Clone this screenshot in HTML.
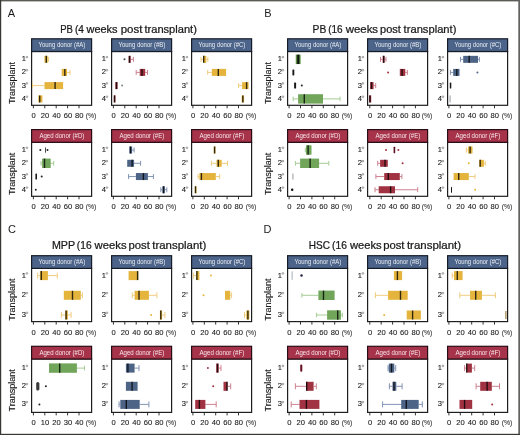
<!DOCTYPE html>
<html><head><meta charset="utf-8"><title>Figure</title>
<style>
html,body{margin:0;padding:0;background:#fff;}
body{width:520px;height:435px;overflow:hidden;font-family:"Liberation Sans", sans-serif;}
svg{display:block;font-family:"Liberation Sans", sans-serif;will-change:transform;}
</style></head><body>
<svg width="520" height="435" viewBox="0 0 520 435">
<rect x="0" y="0" width="520" height="435" fill="#ffffff"/>
<text x="7.8" y="17" font-size="11" fill="#1a1a1a">A</text>
<text x="60.14" y="32.5" font-size="10.6" fill="#1a1a1a" stroke="#1a1a1a" stroke-width="0.24" textLength="12.67" lengthAdjust="spacingAndGlyphs">PB</text>
<text x="74.89" y="32.5" font-size="10.6" fill="#1a1a1a" stroke="#1a1a1a" stroke-width="0.24" textLength="9" lengthAdjust="spacingAndGlyphs">(4</text>
<text x="86.5" y="32.5" font-size="10.6" fill="#1a1a1a" stroke="#1a1a1a" stroke-width="0.24" textLength="31.08" lengthAdjust="spacingAndGlyphs">weeks</text>
<text x="120.76" y="32.5" font-size="10.6" fill="#1a1a1a" stroke="#1a1a1a" stroke-width="0.24" textLength="21.66" lengthAdjust="spacingAndGlyphs">post</text>
<text x="144.43" y="32.5" font-size="10.6" fill="#1a1a1a" stroke="#1a1a1a" stroke-width="0.24" textLength="52.49" lengthAdjust="spacingAndGlyphs">transplant)</text>
<text x="264.2" y="17" font-size="11" fill="#1a1a1a">B</text>
<text x="312.58" y="32.5" font-size="10.6" fill="#1a1a1a" stroke="#1a1a1a" stroke-width="0.24" textLength="13.67" lengthAdjust="spacingAndGlyphs">PB</text>
<text x="328.2" y="32.5" font-size="10.6" fill="#1a1a1a" stroke="#1a1a1a" stroke-width="0.24" textLength="14.51" lengthAdjust="spacingAndGlyphs">(16</text>
<text x="345.7" y="32.5" font-size="10.6" fill="#1a1a1a" stroke="#1a1a1a" stroke-width="0.24" textLength="32.39" lengthAdjust="spacingAndGlyphs">weeks</text>
<text x="380.08" y="32.5" font-size="10.6" fill="#1a1a1a" stroke="#1a1a1a" stroke-width="0.24" textLength="20.83" lengthAdjust="spacingAndGlyphs">post</text>
<text x="403.63" y="32.5" font-size="10.6" fill="#1a1a1a" stroke="#1a1a1a" stroke-width="0.24" textLength="52.79" lengthAdjust="spacingAndGlyphs">transplant)</text>
<text x="8" y="233.3" font-size="11" fill="#1a1a1a">C</text>
<text x="51.94" y="249" font-size="10.6" fill="#1a1a1a" stroke="#1a1a1a" stroke-width="0.24" textLength="23.22" lengthAdjust="spacingAndGlyphs">MPP</text>
<text x="76.78" y="249" font-size="10.6" fill="#1a1a1a" stroke="#1a1a1a" stroke-width="0.24" textLength="14.83" lengthAdjust="spacingAndGlyphs">(16</text>
<text x="94.6" y="249" font-size="10.6" fill="#1a1a1a" stroke="#1a1a1a" stroke-width="0.24" textLength="31.99" lengthAdjust="spacingAndGlyphs">weeks</text>
<text x="128.57" y="249" font-size="10.6" fill="#1a1a1a" stroke="#1a1a1a" stroke-width="0.24" textLength="21.35" lengthAdjust="spacingAndGlyphs">post</text>
<text x="152.23" y="249" font-size="10.6" fill="#1a1a1a" stroke="#1a1a1a" stroke-width="0.24" textLength="54.01" lengthAdjust="spacingAndGlyphs">transplant)</text>
<text x="263.5" y="233.3" font-size="11" fill="#1a1a1a">D</text>
<text x="308.8" y="249" font-size="10.6" fill="#1a1a1a" stroke="#1a1a1a" stroke-width="0.24" textLength="21.17" lengthAdjust="spacingAndGlyphs">HSC</text>
<text x="332.08" y="249" font-size="10.6" fill="#1a1a1a" stroke="#1a1a1a" stroke-width="0.24" textLength="14.83" lengthAdjust="spacingAndGlyphs">(16</text>
<text x="349.9" y="249" font-size="10.6" fill="#1a1a1a" stroke="#1a1a1a" stroke-width="0.24" textLength="31.69" lengthAdjust="spacingAndGlyphs">weeks</text>
<text x="383.17" y="249" font-size="10.6" fill="#1a1a1a" stroke="#1a1a1a" stroke-width="0.24" textLength="21.35" lengthAdjust="spacingAndGlyphs">post</text>
<text x="406.93" y="249" font-size="10.6" fill="#1a1a1a" stroke="#1a1a1a" stroke-width="0.24" textLength="54.22" lengthAdjust="spacingAndGlyphs">transplant)</text>
<text x="0" y="0" font-size="8.9" fill="#1a1a1a" stroke="#1a1a1a" stroke-width="0.12" text-anchor="middle" textLength="42.2" lengthAdjust="spacingAndGlyphs" transform="translate(14.8,83) rotate(-90)">Transplant</text>
<text x="25.9" y="61.35" font-size="7.6" fill="#1c1c1c" stroke="#1c1c1c" stroke-width="0.12" text-anchor="end">1</text>
<circle cx="26.9" cy="57.15" r="0.85" fill="none" stroke="#666" stroke-width="0.6"/>
<text x="25.9" y="74.4" font-size="7.6" fill="#1c1c1c" stroke="#1c1c1c" stroke-width="0.12" text-anchor="end">2</text>
<circle cx="26.9" cy="70.2" r="0.85" fill="none" stroke="#666" stroke-width="0.6"/>
<text x="25.9" y="87.6" font-size="7.6" fill="#1c1c1c" stroke="#1c1c1c" stroke-width="0.12" text-anchor="end">3</text>
<circle cx="26.9" cy="83.4" r="0.85" fill="none" stroke="#666" stroke-width="0.6"/>
<text x="25.9" y="100.9" font-size="7.6" fill="#1c1c1c" stroke="#1c1c1c" stroke-width="0.12" text-anchor="end">4</text>
<circle cx="26.9" cy="96.7" r="0.85" fill="none" stroke="#666" stroke-width="0.6"/>
<text x="105.9" y="61.35" font-size="7.6" fill="#1c1c1c" stroke="#1c1c1c" stroke-width="0.12" text-anchor="end">1</text>
<circle cx="106.9" cy="57.15" r="0.85" fill="none" stroke="#666" stroke-width="0.6"/>
<text x="105.9" y="74.4" font-size="7.6" fill="#1c1c1c" stroke="#1c1c1c" stroke-width="0.12" text-anchor="end">2</text>
<circle cx="106.9" cy="70.2" r="0.85" fill="none" stroke="#666" stroke-width="0.6"/>
<text x="105.9" y="87.6" font-size="7.6" fill="#1c1c1c" stroke="#1c1c1c" stroke-width="0.12" text-anchor="end">3</text>
<circle cx="106.9" cy="83.4" r="0.85" fill="none" stroke="#666" stroke-width="0.6"/>
<text x="105.9" y="100.9" font-size="7.6" fill="#1c1c1c" stroke="#1c1c1c" stroke-width="0.12" text-anchor="end">4</text>
<circle cx="106.9" cy="96.7" r="0.85" fill="none" stroke="#666" stroke-width="0.6"/>
<text x="185.9" y="61.35" font-size="7.6" fill="#1c1c1c" stroke="#1c1c1c" stroke-width="0.12" text-anchor="end">1</text>
<circle cx="186.9" cy="57.15" r="0.85" fill="none" stroke="#666" stroke-width="0.6"/>
<text x="185.9" y="74.4" font-size="7.6" fill="#1c1c1c" stroke="#1c1c1c" stroke-width="0.12" text-anchor="end">2</text>
<circle cx="186.9" cy="70.2" r="0.85" fill="none" stroke="#666" stroke-width="0.6"/>
<text x="185.9" y="87.6" font-size="7.6" fill="#1c1c1c" stroke="#1c1c1c" stroke-width="0.12" text-anchor="end">3</text>
<circle cx="186.9" cy="83.4" r="0.85" fill="none" stroke="#666" stroke-width="0.6"/>
<text x="185.9" y="100.9" font-size="7.6" fill="#1c1c1c" stroke="#1c1c1c" stroke-width="0.12" text-anchor="end">4</text>
<circle cx="186.9" cy="96.7" r="0.85" fill="none" stroke="#666" stroke-width="0.6"/>
<text x="0" y="0" font-size="8.9" fill="#1a1a1a" stroke="#1a1a1a" stroke-width="0.12" text-anchor="middle" textLength="42.2" lengthAdjust="spacingAndGlyphs" transform="translate(14.8,173.9) rotate(-90)">Transplant</text>
<text x="25.9" y="152" font-size="7.6" fill="#1c1c1c" stroke="#1c1c1c" stroke-width="0.12" text-anchor="end">1</text>
<circle cx="26.9" cy="147.8" r="0.85" fill="none" stroke="#666" stroke-width="0.6"/>
<text x="25.9" y="165.3" font-size="7.6" fill="#1c1c1c" stroke="#1c1c1c" stroke-width="0.12" text-anchor="end">2</text>
<circle cx="26.9" cy="161.1" r="0.85" fill="none" stroke="#666" stroke-width="0.6"/>
<text x="25.9" y="178.55" font-size="7.6" fill="#1c1c1c" stroke="#1c1c1c" stroke-width="0.12" text-anchor="end">3</text>
<circle cx="26.9" cy="174.35" r="0.85" fill="none" stroke="#666" stroke-width="0.6"/>
<text x="25.9" y="191.75" font-size="7.6" fill="#1c1c1c" stroke="#1c1c1c" stroke-width="0.12" text-anchor="end">4</text>
<circle cx="26.9" cy="187.55" r="0.85" fill="none" stroke="#666" stroke-width="0.6"/>
<text x="105.9" y="152" font-size="7.6" fill="#1c1c1c" stroke="#1c1c1c" stroke-width="0.12" text-anchor="end">1</text>
<circle cx="106.9" cy="147.8" r="0.85" fill="none" stroke="#666" stroke-width="0.6"/>
<text x="105.9" y="165.3" font-size="7.6" fill="#1c1c1c" stroke="#1c1c1c" stroke-width="0.12" text-anchor="end">2</text>
<circle cx="106.9" cy="161.1" r="0.85" fill="none" stroke="#666" stroke-width="0.6"/>
<text x="105.9" y="178.55" font-size="7.6" fill="#1c1c1c" stroke="#1c1c1c" stroke-width="0.12" text-anchor="end">3</text>
<circle cx="106.9" cy="174.35" r="0.85" fill="none" stroke="#666" stroke-width="0.6"/>
<text x="105.9" y="191.75" font-size="7.6" fill="#1c1c1c" stroke="#1c1c1c" stroke-width="0.12" text-anchor="end">4</text>
<circle cx="106.9" cy="187.55" r="0.85" fill="none" stroke="#666" stroke-width="0.6"/>
<text x="185.9" y="152" font-size="7.6" fill="#1c1c1c" stroke="#1c1c1c" stroke-width="0.12" text-anchor="end">1</text>
<circle cx="186.9" cy="147.8" r="0.85" fill="none" stroke="#666" stroke-width="0.6"/>
<text x="185.9" y="165.3" font-size="7.6" fill="#1c1c1c" stroke="#1c1c1c" stroke-width="0.12" text-anchor="end">2</text>
<circle cx="186.9" cy="161.1" r="0.85" fill="none" stroke="#666" stroke-width="0.6"/>
<text x="185.9" y="178.55" font-size="7.6" fill="#1c1c1c" stroke="#1c1c1c" stroke-width="0.12" text-anchor="end">3</text>
<circle cx="186.9" cy="174.35" r="0.85" fill="none" stroke="#666" stroke-width="0.6"/>
<text x="185.9" y="191.75" font-size="7.6" fill="#1c1c1c" stroke="#1c1c1c" stroke-width="0.12" text-anchor="end">4</text>
<circle cx="186.9" cy="187.55" r="0.85" fill="none" stroke="#666" stroke-width="0.6"/>
<text x="0" y="0" font-size="8.9" fill="#1a1a1a" stroke="#1a1a1a" stroke-width="0.12" text-anchor="middle" textLength="42.2" lengthAdjust="spacingAndGlyphs" transform="translate(14.8,299.6) rotate(-90)">Transplant</text>
<text x="25.9" y="277.6" font-size="7.6" fill="#1c1c1c" stroke="#1c1c1c" stroke-width="0.12" text-anchor="end">1</text>
<circle cx="26.9" cy="273.4" r="0.85" fill="none" stroke="#666" stroke-width="0.6"/>
<text x="25.9" y="297.3" font-size="7.6" fill="#1c1c1c" stroke="#1c1c1c" stroke-width="0.12" text-anchor="end">2</text>
<circle cx="26.9" cy="293.1" r="0.85" fill="none" stroke="#666" stroke-width="0.6"/>
<text x="25.9" y="317" font-size="7.6" fill="#1c1c1c" stroke="#1c1c1c" stroke-width="0.12" text-anchor="end">3</text>
<circle cx="26.9" cy="312.8" r="0.85" fill="none" stroke="#666" stroke-width="0.6"/>
<text x="105.9" y="277.6" font-size="7.6" fill="#1c1c1c" stroke="#1c1c1c" stroke-width="0.12" text-anchor="end">1</text>
<circle cx="106.9" cy="273.4" r="0.85" fill="none" stroke="#666" stroke-width="0.6"/>
<text x="105.9" y="297.3" font-size="7.6" fill="#1c1c1c" stroke="#1c1c1c" stroke-width="0.12" text-anchor="end">2</text>
<circle cx="106.9" cy="293.1" r="0.85" fill="none" stroke="#666" stroke-width="0.6"/>
<text x="105.9" y="317" font-size="7.6" fill="#1c1c1c" stroke="#1c1c1c" stroke-width="0.12" text-anchor="end">3</text>
<circle cx="106.9" cy="312.8" r="0.85" fill="none" stroke="#666" stroke-width="0.6"/>
<text x="185.9" y="277.6" font-size="7.6" fill="#1c1c1c" stroke="#1c1c1c" stroke-width="0.12" text-anchor="end">1</text>
<circle cx="186.9" cy="273.4" r="0.85" fill="none" stroke="#666" stroke-width="0.6"/>
<text x="185.9" y="297.3" font-size="7.6" fill="#1c1c1c" stroke="#1c1c1c" stroke-width="0.12" text-anchor="end">2</text>
<circle cx="186.9" cy="293.1" r="0.85" fill="none" stroke="#666" stroke-width="0.6"/>
<text x="185.9" y="317" font-size="7.6" fill="#1c1c1c" stroke="#1c1c1c" stroke-width="0.12" text-anchor="end">3</text>
<circle cx="186.9" cy="312.8" r="0.85" fill="none" stroke="#666" stroke-width="0.6"/>
<text x="0" y="0" font-size="8.9" fill="#1a1a1a" stroke="#1a1a1a" stroke-width="0.12" text-anchor="middle" textLength="42.2" lengthAdjust="spacingAndGlyphs" transform="translate(14.8,390.3) rotate(-90)">Transplant</text>
<text x="25.9" y="370.1" font-size="7.6" fill="#1c1c1c" stroke="#1c1c1c" stroke-width="0.12" text-anchor="end">1</text>
<circle cx="26.9" cy="365.9" r="0.85" fill="none" stroke="#666" stroke-width="0.6"/>
<text x="25.9" y="388.3" font-size="7.6" fill="#1c1c1c" stroke="#1c1c1c" stroke-width="0.12" text-anchor="end">2</text>
<circle cx="26.9" cy="384.1" r="0.85" fill="none" stroke="#666" stroke-width="0.6"/>
<text x="25.9" y="406.4" font-size="7.6" fill="#1c1c1c" stroke="#1c1c1c" stroke-width="0.12" text-anchor="end">3</text>
<circle cx="26.9" cy="402.2" r="0.85" fill="none" stroke="#666" stroke-width="0.6"/>
<text x="105.9" y="370.1" font-size="7.6" fill="#1c1c1c" stroke="#1c1c1c" stroke-width="0.12" text-anchor="end">1</text>
<circle cx="106.9" cy="365.9" r="0.85" fill="none" stroke="#666" stroke-width="0.6"/>
<text x="105.9" y="388.3" font-size="7.6" fill="#1c1c1c" stroke="#1c1c1c" stroke-width="0.12" text-anchor="end">2</text>
<circle cx="106.9" cy="384.1" r="0.85" fill="none" stroke="#666" stroke-width="0.6"/>
<text x="105.9" y="406.4" font-size="7.6" fill="#1c1c1c" stroke="#1c1c1c" stroke-width="0.12" text-anchor="end">3</text>
<circle cx="106.9" cy="402.2" r="0.85" fill="none" stroke="#666" stroke-width="0.6"/>
<text x="185.9" y="370.1" font-size="7.6" fill="#1c1c1c" stroke="#1c1c1c" stroke-width="0.12" text-anchor="end">1</text>
<circle cx="186.9" cy="365.9" r="0.85" fill="none" stroke="#666" stroke-width="0.6"/>
<text x="185.9" y="388.3" font-size="7.6" fill="#1c1c1c" stroke="#1c1c1c" stroke-width="0.12" text-anchor="end">2</text>
<circle cx="186.9" cy="384.1" r="0.85" fill="none" stroke="#666" stroke-width="0.6"/>
<text x="185.9" y="406.4" font-size="7.6" fill="#1c1c1c" stroke="#1c1c1c" stroke-width="0.12" text-anchor="end">3</text>
<circle cx="186.9" cy="402.2" r="0.85" fill="none" stroke="#666" stroke-width="0.6"/>
<text x="0" y="0" font-size="8.9" fill="#1a1a1a" stroke="#1a1a1a" stroke-width="0.12" text-anchor="middle" textLength="42.2" lengthAdjust="spacingAndGlyphs" transform="translate(270.8,83) rotate(-90)">Transplant</text>
<text x="281.9" y="61.35" font-size="7.6" fill="#1c1c1c" stroke="#1c1c1c" stroke-width="0.12" text-anchor="end">1</text>
<circle cx="282.9" cy="57.15" r="0.85" fill="none" stroke="#666" stroke-width="0.6"/>
<text x="281.9" y="74.4" font-size="7.6" fill="#1c1c1c" stroke="#1c1c1c" stroke-width="0.12" text-anchor="end">2</text>
<circle cx="282.9" cy="70.2" r="0.85" fill="none" stroke="#666" stroke-width="0.6"/>
<text x="281.9" y="87.6" font-size="7.6" fill="#1c1c1c" stroke="#1c1c1c" stroke-width="0.12" text-anchor="end">3</text>
<circle cx="282.9" cy="83.4" r="0.85" fill="none" stroke="#666" stroke-width="0.6"/>
<text x="281.9" y="100.9" font-size="7.6" fill="#1c1c1c" stroke="#1c1c1c" stroke-width="0.12" text-anchor="end">4</text>
<circle cx="282.9" cy="96.7" r="0.85" fill="none" stroke="#666" stroke-width="0.6"/>
<text x="361.9" y="61.35" font-size="7.6" fill="#1c1c1c" stroke="#1c1c1c" stroke-width="0.12" text-anchor="end">1</text>
<circle cx="362.9" cy="57.15" r="0.85" fill="none" stroke="#666" stroke-width="0.6"/>
<text x="361.9" y="74.4" font-size="7.6" fill="#1c1c1c" stroke="#1c1c1c" stroke-width="0.12" text-anchor="end">2</text>
<circle cx="362.9" cy="70.2" r="0.85" fill="none" stroke="#666" stroke-width="0.6"/>
<text x="361.9" y="87.6" font-size="7.6" fill="#1c1c1c" stroke="#1c1c1c" stroke-width="0.12" text-anchor="end">3</text>
<circle cx="362.9" cy="83.4" r="0.85" fill="none" stroke="#666" stroke-width="0.6"/>
<text x="361.9" y="100.9" font-size="7.6" fill="#1c1c1c" stroke="#1c1c1c" stroke-width="0.12" text-anchor="end">4</text>
<circle cx="362.9" cy="96.7" r="0.85" fill="none" stroke="#666" stroke-width="0.6"/>
<text x="441.9" y="61.35" font-size="7.6" fill="#1c1c1c" stroke="#1c1c1c" stroke-width="0.12" text-anchor="end">1</text>
<circle cx="442.9" cy="57.15" r="0.85" fill="none" stroke="#666" stroke-width="0.6"/>
<text x="441.9" y="74.4" font-size="7.6" fill="#1c1c1c" stroke="#1c1c1c" stroke-width="0.12" text-anchor="end">2</text>
<circle cx="442.9" cy="70.2" r="0.85" fill="none" stroke="#666" stroke-width="0.6"/>
<text x="441.9" y="87.6" font-size="7.6" fill="#1c1c1c" stroke="#1c1c1c" stroke-width="0.12" text-anchor="end">3</text>
<circle cx="442.9" cy="83.4" r="0.85" fill="none" stroke="#666" stroke-width="0.6"/>
<text x="441.9" y="100.9" font-size="7.6" fill="#1c1c1c" stroke="#1c1c1c" stroke-width="0.12" text-anchor="end">4</text>
<circle cx="442.9" cy="96.7" r="0.85" fill="none" stroke="#666" stroke-width="0.6"/>
<text x="0" y="0" font-size="8.9" fill="#1a1a1a" stroke="#1a1a1a" stroke-width="0.12" text-anchor="middle" textLength="42.2" lengthAdjust="spacingAndGlyphs" transform="translate(270.8,173.9) rotate(-90)">Transplant</text>
<text x="281.9" y="152" font-size="7.6" fill="#1c1c1c" stroke="#1c1c1c" stroke-width="0.12" text-anchor="end">1</text>
<circle cx="282.9" cy="147.8" r="0.85" fill="none" stroke="#666" stroke-width="0.6"/>
<text x="281.9" y="165.3" font-size="7.6" fill="#1c1c1c" stroke="#1c1c1c" stroke-width="0.12" text-anchor="end">2</text>
<circle cx="282.9" cy="161.1" r="0.85" fill="none" stroke="#666" stroke-width="0.6"/>
<text x="281.9" y="178.55" font-size="7.6" fill="#1c1c1c" stroke="#1c1c1c" stroke-width="0.12" text-anchor="end">3</text>
<circle cx="282.9" cy="174.35" r="0.85" fill="none" stroke="#666" stroke-width="0.6"/>
<text x="281.9" y="191.75" font-size="7.6" fill="#1c1c1c" stroke="#1c1c1c" stroke-width="0.12" text-anchor="end">4</text>
<circle cx="282.9" cy="187.55" r="0.85" fill="none" stroke="#666" stroke-width="0.6"/>
<text x="361.9" y="152" font-size="7.6" fill="#1c1c1c" stroke="#1c1c1c" stroke-width="0.12" text-anchor="end">1</text>
<circle cx="362.9" cy="147.8" r="0.85" fill="none" stroke="#666" stroke-width="0.6"/>
<text x="361.9" y="165.3" font-size="7.6" fill="#1c1c1c" stroke="#1c1c1c" stroke-width="0.12" text-anchor="end">2</text>
<circle cx="362.9" cy="161.1" r="0.85" fill="none" stroke="#666" stroke-width="0.6"/>
<text x="361.9" y="178.55" font-size="7.6" fill="#1c1c1c" stroke="#1c1c1c" stroke-width="0.12" text-anchor="end">3</text>
<circle cx="362.9" cy="174.35" r="0.85" fill="none" stroke="#666" stroke-width="0.6"/>
<text x="361.9" y="191.75" font-size="7.6" fill="#1c1c1c" stroke="#1c1c1c" stroke-width="0.12" text-anchor="end">4</text>
<circle cx="362.9" cy="187.55" r="0.85" fill="none" stroke="#666" stroke-width="0.6"/>
<text x="441.9" y="152" font-size="7.6" fill="#1c1c1c" stroke="#1c1c1c" stroke-width="0.12" text-anchor="end">1</text>
<circle cx="442.9" cy="147.8" r="0.85" fill="none" stroke="#666" stroke-width="0.6"/>
<text x="441.9" y="165.3" font-size="7.6" fill="#1c1c1c" stroke="#1c1c1c" stroke-width="0.12" text-anchor="end">2</text>
<circle cx="442.9" cy="161.1" r="0.85" fill="none" stroke="#666" stroke-width="0.6"/>
<text x="441.9" y="178.55" font-size="7.6" fill="#1c1c1c" stroke="#1c1c1c" stroke-width="0.12" text-anchor="end">3</text>
<circle cx="442.9" cy="174.35" r="0.85" fill="none" stroke="#666" stroke-width="0.6"/>
<text x="441.9" y="191.75" font-size="7.6" fill="#1c1c1c" stroke="#1c1c1c" stroke-width="0.12" text-anchor="end">4</text>
<circle cx="442.9" cy="187.55" r="0.85" fill="none" stroke="#666" stroke-width="0.6"/>
<text x="0" y="0" font-size="8.9" fill="#1a1a1a" stroke="#1a1a1a" stroke-width="0.12" text-anchor="middle" textLength="42.2" lengthAdjust="spacingAndGlyphs" transform="translate(270.8,299.6) rotate(-90)">Transplant</text>
<text x="281.9" y="277.6" font-size="7.6" fill="#1c1c1c" stroke="#1c1c1c" stroke-width="0.12" text-anchor="end">1</text>
<circle cx="282.9" cy="273.4" r="0.85" fill="none" stroke="#666" stroke-width="0.6"/>
<text x="281.9" y="297.3" font-size="7.6" fill="#1c1c1c" stroke="#1c1c1c" stroke-width="0.12" text-anchor="end">2</text>
<circle cx="282.9" cy="293.1" r="0.85" fill="none" stroke="#666" stroke-width="0.6"/>
<text x="281.9" y="317" font-size="7.6" fill="#1c1c1c" stroke="#1c1c1c" stroke-width="0.12" text-anchor="end">3</text>
<circle cx="282.9" cy="312.8" r="0.85" fill="none" stroke="#666" stroke-width="0.6"/>
<text x="361.9" y="277.6" font-size="7.6" fill="#1c1c1c" stroke="#1c1c1c" stroke-width="0.12" text-anchor="end">1</text>
<circle cx="362.9" cy="273.4" r="0.85" fill="none" stroke="#666" stroke-width="0.6"/>
<text x="361.9" y="297.3" font-size="7.6" fill="#1c1c1c" stroke="#1c1c1c" stroke-width="0.12" text-anchor="end">2</text>
<circle cx="362.9" cy="293.1" r="0.85" fill="none" stroke="#666" stroke-width="0.6"/>
<text x="361.9" y="317" font-size="7.6" fill="#1c1c1c" stroke="#1c1c1c" stroke-width="0.12" text-anchor="end">3</text>
<circle cx="362.9" cy="312.8" r="0.85" fill="none" stroke="#666" stroke-width="0.6"/>
<text x="441.9" y="277.6" font-size="7.6" fill="#1c1c1c" stroke="#1c1c1c" stroke-width="0.12" text-anchor="end">1</text>
<circle cx="442.9" cy="273.4" r="0.85" fill="none" stroke="#666" stroke-width="0.6"/>
<text x="441.9" y="297.3" font-size="7.6" fill="#1c1c1c" stroke="#1c1c1c" stroke-width="0.12" text-anchor="end">2</text>
<circle cx="442.9" cy="293.1" r="0.85" fill="none" stroke="#666" stroke-width="0.6"/>
<text x="441.9" y="317" font-size="7.6" fill="#1c1c1c" stroke="#1c1c1c" stroke-width="0.12" text-anchor="end">3</text>
<circle cx="442.9" cy="312.8" r="0.85" fill="none" stroke="#666" stroke-width="0.6"/>
<text x="0" y="0" font-size="8.9" fill="#1a1a1a" stroke="#1a1a1a" stroke-width="0.12" text-anchor="middle" textLength="42.2" lengthAdjust="spacingAndGlyphs" transform="translate(270.8,390.3) rotate(-90)">Transplant</text>
<text x="281.9" y="370.1" font-size="7.6" fill="#1c1c1c" stroke="#1c1c1c" stroke-width="0.12" text-anchor="end">1</text>
<circle cx="282.9" cy="365.9" r="0.85" fill="none" stroke="#666" stroke-width="0.6"/>
<text x="281.9" y="388.3" font-size="7.6" fill="#1c1c1c" stroke="#1c1c1c" stroke-width="0.12" text-anchor="end">2</text>
<circle cx="282.9" cy="384.1" r="0.85" fill="none" stroke="#666" stroke-width="0.6"/>
<text x="281.9" y="406.4" font-size="7.6" fill="#1c1c1c" stroke="#1c1c1c" stroke-width="0.12" text-anchor="end">3</text>
<circle cx="282.9" cy="402.2" r="0.85" fill="none" stroke="#666" stroke-width="0.6"/>
<text x="361.9" y="370.1" font-size="7.6" fill="#1c1c1c" stroke="#1c1c1c" stroke-width="0.12" text-anchor="end">1</text>
<circle cx="362.9" cy="365.9" r="0.85" fill="none" stroke="#666" stroke-width="0.6"/>
<text x="361.9" y="388.3" font-size="7.6" fill="#1c1c1c" stroke="#1c1c1c" stroke-width="0.12" text-anchor="end">2</text>
<circle cx="362.9" cy="384.1" r="0.85" fill="none" stroke="#666" stroke-width="0.6"/>
<text x="361.9" y="406.4" font-size="7.6" fill="#1c1c1c" stroke="#1c1c1c" stroke-width="0.12" text-anchor="end">3</text>
<circle cx="362.9" cy="402.2" r="0.85" fill="none" stroke="#666" stroke-width="0.6"/>
<text x="441.9" y="370.1" font-size="7.6" fill="#1c1c1c" stroke="#1c1c1c" stroke-width="0.12" text-anchor="end">1</text>
<circle cx="442.9" cy="365.9" r="0.85" fill="none" stroke="#666" stroke-width="0.6"/>
<text x="441.9" y="388.3" font-size="7.6" fill="#1c1c1c" stroke="#1c1c1c" stroke-width="0.12" text-anchor="end">2</text>
<circle cx="442.9" cy="384.1" r="0.85" fill="none" stroke="#666" stroke-width="0.6"/>
<text x="441.9" y="406.4" font-size="7.6" fill="#1c1c1c" stroke="#1c1c1c" stroke-width="0.12" text-anchor="end">3</text>
<circle cx="442.9" cy="402.2" r="0.85" fill="none" stroke="#666" stroke-width="0.6"/>
<rect x="31.6" y="51.5" width="60" height="53.8" fill="#fff" stroke="#1e1e1e" stroke-width="1.2"/>
<rect x="31.6" y="38.8" width="60" height="12.7" fill="#4c6489" stroke="#141c28" stroke-width="1.2"/>
<text x="38.5" y="47.2" font-size="6.4" fill="#e9edf3" textLength="46.8" lengthAdjust="spacingAndGlyphs">Young donor (#A)</text>
<line x1="33.4" y1="105.3" x2="33.4" y2="108.3" stroke="#1e1e1e" stroke-width="0.9"/>
<line x1="44.8" y1="105.3" x2="44.8" y2="108.3" stroke="#1e1e1e" stroke-width="0.9"/>
<line x1="56.2" y1="105.3" x2="56.2" y2="108.3" stroke="#1e1e1e" stroke-width="0.9"/>
<line x1="67.6" y1="105.3" x2="67.6" y2="108.3" stroke="#1e1e1e" stroke-width="0.9"/>
<line x1="79" y1="105.3" x2="79" y2="108.3" stroke="#1e1e1e" stroke-width="0.9"/>
<text x="33.7" y="118.3" font-size="7.6" fill="#1c1c1c" stroke="#1c1c1c" stroke-width="0.1" text-anchor="middle">0</text>
<text x="45.1" y="118.3" font-size="7.6" fill="#1c1c1c" stroke="#1c1c1c" stroke-width="0.1" text-anchor="middle">20</text>
<text x="56.5" y="118.3" font-size="7.6" fill="#1c1c1c" stroke="#1c1c1c" stroke-width="0.1" text-anchor="middle">40</text>
<text x="67.9" y="118.3" font-size="7.6" fill="#1c1c1c" stroke="#1c1c1c" stroke-width="0.1" text-anchor="middle">60</text>
<text x="79.3" y="118.3" font-size="7.6" fill="#1c1c1c" stroke="#1c1c1c" stroke-width="0.1" text-anchor="middle">80</text>
<text x="85.7" y="118.3" font-size="7.6" fill="#333" stroke="#333" stroke-width="0.08" textLength="10.6" lengthAdjust="spacingAndGlyphs">(%)</text>
<line x1="47.7" y1="59.35" x2="48.6" y2="59.35" stroke="#efcd80" stroke-width="1"/>
<line x1="48.6" y1="56.85" x2="48.6" y2="61.85" stroke="#efcd80" stroke-width="1"/>
<rect x="44.5" y="55.85" width="3.2" height="7" fill="#e4b43c"/>
<line x1="46.3" y1="55.85" x2="46.3" y2="62.85" stroke="#000" stroke-width="1.4" stroke-opacity="0.78"/>
<line x1="67" y1="72.4" x2="70" y2="72.4" stroke="#efcd80" stroke-width="1"/>
<line x1="70" y1="69.9" x2="70" y2="74.9" stroke="#efcd80" stroke-width="1"/>
<rect x="61.7" y="68.9" width="5.3" height="7" fill="#e4b43c"/>
<line x1="64.8" y1="68.9" x2="64.8" y2="75.9" stroke="#000" stroke-width="1.4" stroke-opacity="0.78"/>
<line x1="32.5" y1="85.6" x2="44.5" y2="85.6" stroke="#efcd80" stroke-width="1"/>
<line x1="32.5" y1="83.1" x2="32.5" y2="88.1" stroke="#efcd80" stroke-width="1"/>
<rect x="44.5" y="82.1" width="18.6" height="7" fill="#e4b43c"/>
<line x1="55.1" y1="82.1" x2="55.1" y2="89.1" stroke="#000" stroke-width="1.4" stroke-opacity="0.78"/>
<rect x="38.3" y="95.4" width="4.1" height="7" fill="#e4b43c"/>
<line x1="39.7" y1="95.4" x2="39.7" y2="102.4" stroke="#000" stroke-width="1.4" stroke-opacity="0.78"/>
<rect x="111.6" y="51.5" width="60" height="53.8" fill="#fff" stroke="#1e1e1e" stroke-width="1.2"/>
<rect x="111.6" y="38.8" width="60" height="12.7" fill="#4c6489" stroke="#141c28" stroke-width="1.2"/>
<text x="118.5" y="47.2" font-size="6.4" fill="#e9edf3" textLength="46.8" lengthAdjust="spacingAndGlyphs">Young donor (#B)</text>
<line x1="113.4" y1="105.3" x2="113.4" y2="108.3" stroke="#1e1e1e" stroke-width="0.9"/>
<line x1="124.8" y1="105.3" x2="124.8" y2="108.3" stroke="#1e1e1e" stroke-width="0.9"/>
<line x1="136.2" y1="105.3" x2="136.2" y2="108.3" stroke="#1e1e1e" stroke-width="0.9"/>
<line x1="147.6" y1="105.3" x2="147.6" y2="108.3" stroke="#1e1e1e" stroke-width="0.9"/>
<line x1="159" y1="105.3" x2="159" y2="108.3" stroke="#1e1e1e" stroke-width="0.9"/>
<text x="113.7" y="118.3" font-size="7.6" fill="#1c1c1c" stroke="#1c1c1c" stroke-width="0.1" text-anchor="middle">0</text>
<text x="125.1" y="118.3" font-size="7.6" fill="#1c1c1c" stroke="#1c1c1c" stroke-width="0.1" text-anchor="middle">20</text>
<text x="136.5" y="118.3" font-size="7.6" fill="#1c1c1c" stroke="#1c1c1c" stroke-width="0.1" text-anchor="middle">40</text>
<text x="147.9" y="118.3" font-size="7.6" fill="#1c1c1c" stroke="#1c1c1c" stroke-width="0.1" text-anchor="middle">60</text>
<text x="159.3" y="118.3" font-size="7.6" fill="#1c1c1c" stroke="#1c1c1c" stroke-width="0.1" text-anchor="middle">80</text>
<text x="165.7" y="118.3" font-size="7.6" fill="#333" stroke="#333" stroke-width="0.08" textLength="10.6" lengthAdjust="spacingAndGlyphs">(%)</text>
<line x1="130.7" y1="59.35" x2="133.4" y2="59.35" stroke="#cc8290" stroke-width="1"/>
<line x1="133.4" y1="56.85" x2="133.4" y2="61.85" stroke="#cc8290" stroke-width="1"/>
<rect x="128.6" y="55.85" width="2.1" height="7" fill="#a03241"/>
<line x1="129.5" y1="55.85" x2="129.5" y2="62.85" stroke="#000" stroke-width="1.4" stroke-opacity="0.78"/>
<circle cx="124.5" cy="59.35" r="1.0" fill="#3a4a3a"/>
<line x1="136.2" y1="72.4" x2="139.7" y2="72.4" stroke="#cc8290" stroke-width="1"/>
<line x1="136.2" y1="69.9" x2="136.2" y2="74.9" stroke="#cc8290" stroke-width="1"/>
<line x1="145.2" y1="72.4" x2="147.5" y2="72.4" stroke="#cc8290" stroke-width="1"/>
<line x1="147.5" y1="69.9" x2="147.5" y2="74.9" stroke="#cc8290" stroke-width="1"/>
<rect x="139.7" y="68.9" width="5.5" height="7" fill="#a03241"/>
<line x1="142" y1="68.9" x2="142" y2="75.9" stroke="#000" stroke-width="1.4" stroke-opacity="0.78"/>
<rect x="115.3" y="82.1" width="2.3" height="7" fill="#a03241"/>
<line x1="116.5" y1="82.1" x2="116.5" y2="89.1" stroke="#000" stroke-width="1.4" stroke-opacity="0.78"/>
<circle cx="122.1" cy="85.6" r="1.0" fill="#7a8a7a"/>
<rect x="113.8" y="95.4" width="1.7" height="7" fill="#a03241"/>
<line x1="114.5" y1="95.4" x2="114.5" y2="102.4" stroke="#000" stroke-width="1.4" stroke-opacity="0.78"/>
<rect x="191.6" y="51.5" width="60" height="53.8" fill="#fff" stroke="#1e1e1e" stroke-width="1.2"/>
<rect x="191.6" y="38.8" width="60" height="12.7" fill="#4c6489" stroke="#141c28" stroke-width="1.2"/>
<text x="198.5" y="47.2" font-size="6.4" fill="#e9edf3" textLength="46.8" lengthAdjust="spacingAndGlyphs">Young donor (#C)</text>
<line x1="192.9" y1="105.3" x2="192.9" y2="108.3" stroke="#1e1e1e" stroke-width="0.9"/>
<line x1="204.3" y1="105.3" x2="204.3" y2="108.3" stroke="#1e1e1e" stroke-width="0.9"/>
<line x1="215.7" y1="105.3" x2="215.7" y2="108.3" stroke="#1e1e1e" stroke-width="0.9"/>
<line x1="227.1" y1="105.3" x2="227.1" y2="108.3" stroke="#1e1e1e" stroke-width="0.9"/>
<line x1="238.5" y1="105.3" x2="238.5" y2="108.3" stroke="#1e1e1e" stroke-width="0.9"/>
<text x="193.2" y="118.3" font-size="7.6" fill="#1c1c1c" stroke="#1c1c1c" stroke-width="0.1" text-anchor="middle">0</text>
<text x="204.6" y="118.3" font-size="7.6" fill="#1c1c1c" stroke="#1c1c1c" stroke-width="0.1" text-anchor="middle">20</text>
<text x="216" y="118.3" font-size="7.6" fill="#1c1c1c" stroke="#1c1c1c" stroke-width="0.1" text-anchor="middle">40</text>
<text x="227.4" y="118.3" font-size="7.6" fill="#1c1c1c" stroke="#1c1c1c" stroke-width="0.1" text-anchor="middle">60</text>
<text x="238.8" y="118.3" font-size="7.6" fill="#1c1c1c" stroke="#1c1c1c" stroke-width="0.1" text-anchor="middle">80</text>
<text x="245.7" y="118.3" font-size="7.6" fill="#333" stroke="#333" stroke-width="0.08" textLength="10.6" lengthAdjust="spacingAndGlyphs">(%)</text>
<line x1="201" y1="59.35" x2="203.1" y2="59.35" stroke="#efcd80" stroke-width="1"/>
<line x1="201" y1="56.85" x2="201" y2="61.85" stroke="#efcd80" stroke-width="1"/>
<line x1="206.3" y1="59.35" x2="207.9" y2="59.35" stroke="#efcd80" stroke-width="1"/>
<line x1="207.9" y1="56.85" x2="207.9" y2="61.85" stroke="#efcd80" stroke-width="1"/>
<rect x="203.1" y="55.85" width="3.2" height="7" fill="#e4b43c"/>
<line x1="203.7" y1="55.85" x2="203.7" y2="62.85" stroke="#000" stroke-width="1.4" stroke-opacity="0.78"/>
<line x1="207.7" y1="72.4" x2="211.8" y2="72.4" stroke="#efcd80" stroke-width="1"/>
<line x1="207.7" y1="69.9" x2="207.7" y2="74.9" stroke="#efcd80" stroke-width="1"/>
<rect x="211.8" y="68.9" width="14.3" height="7" fill="#e4b43c"/>
<line x1="218.3" y1="68.9" x2="218.3" y2="75.9" stroke="#000" stroke-width="1.4" stroke-opacity="0.78"/>
<line x1="238.6" y1="85.6" x2="242.1" y2="85.6" stroke="#efcd80" stroke-width="1"/>
<line x1="238.6" y1="83.1" x2="238.6" y2="88.1" stroke="#efcd80" stroke-width="1"/>
<rect x="242.1" y="82.1" width="6.5" height="7" fill="#e4b43c"/>
<line x1="246.6" y1="82.1" x2="246.6" y2="89.1" stroke="#000" stroke-width="1.4" stroke-opacity="0.78"/>
<rect x="241.7" y="95.4" width="2.4" height="7" fill="#e4b43c"/>
<line x1="242.8" y1="95.4" x2="242.8" y2="102.4" stroke="#000" stroke-width="1.4" stroke-opacity="0.78"/>
<rect x="31.6" y="142.3" width="60" height="54" fill="#fff" stroke="#1e1e1e" stroke-width="1.2"/>
<rect x="31.6" y="129.6" width="60" height="12.7" fill="#a6334a" stroke="#2a0d14" stroke-width="1.2"/>
<text x="39.4" y="138" font-size="6.4" fill="#f6e4e8" textLength="45" lengthAdjust="spacingAndGlyphs">Aged donor (#D)</text>
<line x1="33.4" y1="196.3" x2="33.4" y2="199.3" stroke="#1e1e1e" stroke-width="0.9"/>
<line x1="44.8" y1="196.3" x2="44.8" y2="199.3" stroke="#1e1e1e" stroke-width="0.9"/>
<line x1="56.2" y1="196.3" x2="56.2" y2="199.3" stroke="#1e1e1e" stroke-width="0.9"/>
<line x1="67.6" y1="196.3" x2="67.6" y2="199.3" stroke="#1e1e1e" stroke-width="0.9"/>
<line x1="79" y1="196.3" x2="79" y2="199.3" stroke="#1e1e1e" stroke-width="0.9"/>
<text x="33.7" y="209.3" font-size="7.6" fill="#1c1c1c" stroke="#1c1c1c" stroke-width="0.1" text-anchor="middle">0</text>
<text x="45.1" y="209.3" font-size="7.6" fill="#1c1c1c" stroke="#1c1c1c" stroke-width="0.1" text-anchor="middle">20</text>
<text x="56.5" y="209.3" font-size="7.6" fill="#1c1c1c" stroke="#1c1c1c" stroke-width="0.1" text-anchor="middle">40</text>
<text x="67.9" y="209.3" font-size="7.6" fill="#1c1c1c" stroke="#1c1c1c" stroke-width="0.1" text-anchor="middle">60</text>
<text x="79.3" y="209.3" font-size="7.6" fill="#1c1c1c" stroke="#1c1c1c" stroke-width="0.1" text-anchor="middle">80</text>
<text x="85.7" y="209.3" font-size="7.6" fill="#333" stroke="#333" stroke-width="0.08" textLength="10.6" lengthAdjust="spacingAndGlyphs">(%)</text>
<rect x="45" y="147.25" width="0.8" height="5.5" rx="0.6" fill="#1a1a1a"/>
<circle cx="40.3" cy="150" r="1.0" fill="#222"/>
<circle cx="47.5" cy="150" r="1.0" fill="#222"/>
<line x1="41" y1="163.3" x2="42.1" y2="163.3" stroke="#a6cc94" stroke-width="1"/>
<line x1="41" y1="161" x2="41" y2="165.6" stroke="#a6cc94" stroke-width="1"/>
<line x1="50.7" y1="163.3" x2="53.7" y2="163.3" stroke="#a6cc94" stroke-width="1"/>
<line x1="53.7" y1="161" x2="53.7" y2="165.6" stroke="#a6cc94" stroke-width="1"/>
<rect x="42.1" y="158.6" width="8.6" height="9.4" fill="#70a55a"/>
<line x1="44.5" y1="158.6" x2="44.5" y2="168" stroke="#000" stroke-width="1.4" stroke-opacity="0.78"/>
<rect x="35.4" y="173.55" width="1.6" height="6" rx="0.6" fill="#1a1a1a"/>
<circle cx="41.7" cy="176.55" r="1.0" fill="#222"/>
<circle cx="35.8" cy="189.75" r="1.0" fill="#222"/>
<rect x="111.6" y="142.3" width="60" height="54" fill="#fff" stroke="#1e1e1e" stroke-width="1.2"/>
<rect x="111.6" y="129.6" width="60" height="12.7" fill="#a6334a" stroke="#2a0d14" stroke-width="1.2"/>
<text x="119.4" y="138" font-size="6.4" fill="#f6e4e8" textLength="45" lengthAdjust="spacingAndGlyphs">Aged donor (#E)</text>
<line x1="113.4" y1="196.3" x2="113.4" y2="199.3" stroke="#1e1e1e" stroke-width="0.9"/>
<line x1="124.8" y1="196.3" x2="124.8" y2="199.3" stroke="#1e1e1e" stroke-width="0.9"/>
<line x1="136.2" y1="196.3" x2="136.2" y2="199.3" stroke="#1e1e1e" stroke-width="0.9"/>
<line x1="147.6" y1="196.3" x2="147.6" y2="199.3" stroke="#1e1e1e" stroke-width="0.9"/>
<line x1="159" y1="196.3" x2="159" y2="199.3" stroke="#1e1e1e" stroke-width="0.9"/>
<text x="113.7" y="209.3" font-size="7.6" fill="#1c1c1c" stroke="#1c1c1c" stroke-width="0.1" text-anchor="middle">0</text>
<text x="125.1" y="209.3" font-size="7.6" fill="#1c1c1c" stroke="#1c1c1c" stroke-width="0.1" text-anchor="middle">20</text>
<text x="136.5" y="209.3" font-size="7.6" fill="#1c1c1c" stroke="#1c1c1c" stroke-width="0.1" text-anchor="middle">40</text>
<text x="147.9" y="209.3" font-size="7.6" fill="#1c1c1c" stroke="#1c1c1c" stroke-width="0.1" text-anchor="middle">60</text>
<text x="159.3" y="209.3" font-size="7.6" fill="#1c1c1c" stroke="#1c1c1c" stroke-width="0.1" text-anchor="middle">80</text>
<text x="165.7" y="209.3" font-size="7.6" fill="#333" stroke="#333" stroke-width="0.08" textLength="10.6" lengthAdjust="spacingAndGlyphs">(%)</text>
<line x1="132.1" y1="150" x2="134.1" y2="150" stroke="#8294b4" stroke-width="1"/>
<line x1="134.1" y1="147.5" x2="134.1" y2="152.5" stroke="#8294b4" stroke-width="1"/>
<rect x="129.3" y="146.5" width="2.8" height="7" fill="#4e6487"/>
<line x1="130.5" y1="146.5" x2="130.5" y2="153.5" stroke="#000" stroke-width="1.4" stroke-opacity="0.78"/>
<line x1="134.1" y1="163.3" x2="140.6" y2="163.3" stroke="#8294b4" stroke-width="1"/>
<line x1="140.6" y1="160.8" x2="140.6" y2="165.8" stroke="#8294b4" stroke-width="1"/>
<rect x="127.2" y="159.8" width="6.9" height="7" fill="#4e6487"/>
<line x1="132.1" y1="159.8" x2="132.1" y2="166.8" stroke="#000" stroke-width="1.4" stroke-opacity="0.78"/>
<line x1="128.6" y1="176.55" x2="135.9" y2="176.55" stroke="#8294b4" stroke-width="1"/>
<line x1="128.6" y1="174.05" x2="128.6" y2="179.05" stroke="#8294b4" stroke-width="1"/>
<line x1="147.9" y1="176.55" x2="153.4" y2="176.55" stroke="#8294b4" stroke-width="1"/>
<line x1="153.4" y1="174.05" x2="153.4" y2="179.05" stroke="#8294b4" stroke-width="1"/>
<rect x="135.9" y="173.05" width="12" height="7" fill="#4e6487"/>
<line x1="143.4" y1="173.05" x2="143.4" y2="180.05" stroke="#000" stroke-width="1.4" stroke-opacity="0.78"/>
<line x1="160.8" y1="189.75" x2="162.4" y2="189.75" stroke="#8294b4" stroke-width="1"/>
<line x1="160.8" y1="187.25" x2="160.8" y2="192.25" stroke="#8294b4" stroke-width="1"/>
<line x1="164.9" y1="189.75" x2="166.8" y2="189.75" stroke="#8294b4" stroke-width="1"/>
<line x1="166.8" y1="187.25" x2="166.8" y2="192.25" stroke="#8294b4" stroke-width="1"/>
<rect x="162.4" y="186.25" width="2.5" height="7" fill="#4e6487"/>
<line x1="163.5" y1="186.25" x2="163.5" y2="193.25" stroke="#000" stroke-width="1.4" stroke-opacity="0.78"/>
<rect x="191.6" y="142.3" width="60" height="54" fill="#fff" stroke="#1e1e1e" stroke-width="1.2"/>
<rect x="191.6" y="129.6" width="60" height="12.7" fill="#a6334a" stroke="#2a0d14" stroke-width="1.2"/>
<text x="199.4" y="138" font-size="6.4" fill="#f6e4e8" textLength="45" lengthAdjust="spacingAndGlyphs">Aged donor (#F)</text>
<line x1="192.9" y1="196.3" x2="192.9" y2="199.3" stroke="#1e1e1e" stroke-width="0.9"/>
<line x1="204.3" y1="196.3" x2="204.3" y2="199.3" stroke="#1e1e1e" stroke-width="0.9"/>
<line x1="215.7" y1="196.3" x2="215.7" y2="199.3" stroke="#1e1e1e" stroke-width="0.9"/>
<line x1="227.1" y1="196.3" x2="227.1" y2="199.3" stroke="#1e1e1e" stroke-width="0.9"/>
<line x1="238.5" y1="196.3" x2="238.5" y2="199.3" stroke="#1e1e1e" stroke-width="0.9"/>
<text x="193.2" y="209.3" font-size="7.6" fill="#1c1c1c" stroke="#1c1c1c" stroke-width="0.1" text-anchor="middle">0</text>
<text x="204.6" y="209.3" font-size="7.6" fill="#1c1c1c" stroke="#1c1c1c" stroke-width="0.1" text-anchor="middle">20</text>
<text x="216" y="209.3" font-size="7.6" fill="#1c1c1c" stroke="#1c1c1c" stroke-width="0.1" text-anchor="middle">40</text>
<text x="227.4" y="209.3" font-size="7.6" fill="#1c1c1c" stroke="#1c1c1c" stroke-width="0.1" text-anchor="middle">60</text>
<text x="238.8" y="209.3" font-size="7.6" fill="#1c1c1c" stroke="#1c1c1c" stroke-width="0.1" text-anchor="middle">80</text>
<text x="245.7" y="209.3" font-size="7.6" fill="#333" stroke="#333" stroke-width="0.08" textLength="10.6" lengthAdjust="spacingAndGlyphs">(%)</text>
<rect x="213.7" y="146.5" width="1.8" height="7" fill="#e4b43c"/>
<line x1="214.6" y1="146.5" x2="214.6" y2="153.5" stroke="#000" stroke-width="1.4" stroke-opacity="0.78"/>
<line x1="211.4" y1="163.3" x2="216.5" y2="163.3" stroke="#efcd80" stroke-width="1"/>
<line x1="211.4" y1="160.8" x2="211.4" y2="165.8" stroke="#efcd80" stroke-width="1"/>
<line x1="221.7" y1="163.3" x2="227.5" y2="163.3" stroke="#efcd80" stroke-width="1"/>
<line x1="227.5" y1="160.8" x2="227.5" y2="165.8" stroke="#efcd80" stroke-width="1"/>
<rect x="216.5" y="159.8" width="5.2" height="7" fill="#e4b43c"/>
<line x1="218.3" y1="159.8" x2="218.3" y2="166.8" stroke="#000" stroke-width="1.4" stroke-opacity="0.78"/>
<line x1="198" y1="176.55" x2="199.4" y2="176.55" stroke="#efcd80" stroke-width="1"/>
<line x1="198" y1="174.05" x2="198" y2="179.05" stroke="#efcd80" stroke-width="1"/>
<line x1="215.8" y1="176.55" x2="219.7" y2="176.55" stroke="#efcd80" stroke-width="1"/>
<line x1="219.7" y1="174.05" x2="219.7" y2="179.05" stroke="#efcd80" stroke-width="1"/>
<rect x="199.4" y="173.05" width="16.4" height="7" fill="#e4b43c"/>
<line x1="201.4" y1="173.05" x2="201.4" y2="180.05" stroke="#000" stroke-width="1.4" stroke-opacity="0.78"/>
<rect x="194.8" y="186.25" width="1.8" height="7" fill="#e4b43c"/>
<line x1="195.5" y1="186.25" x2="195.5" y2="193.25" stroke="#000" stroke-width="1.4" stroke-opacity="0.78"/>
<rect x="287.6" y="51.5" width="60" height="53.8" fill="#fff" stroke="#1e1e1e" stroke-width="1.2"/>
<rect x="287.6" y="38.8" width="60" height="12.7" fill="#4c6489" stroke="#141c28" stroke-width="1.2"/>
<text x="294.5" y="47.2" font-size="6.4" fill="#e9edf3" textLength="46.8" lengthAdjust="spacingAndGlyphs">Young donor (#A)</text>
<line x1="289.1" y1="105.3" x2="289.1" y2="108.3" stroke="#1e1e1e" stroke-width="0.9"/>
<line x1="300.5" y1="105.3" x2="300.5" y2="108.3" stroke="#1e1e1e" stroke-width="0.9"/>
<line x1="311.9" y1="105.3" x2="311.9" y2="108.3" stroke="#1e1e1e" stroke-width="0.9"/>
<line x1="323.3" y1="105.3" x2="323.3" y2="108.3" stroke="#1e1e1e" stroke-width="0.9"/>
<line x1="334.7" y1="105.3" x2="334.7" y2="108.3" stroke="#1e1e1e" stroke-width="0.9"/>
<text x="289.4" y="118.3" font-size="7.6" fill="#1c1c1c" stroke="#1c1c1c" stroke-width="0.1" text-anchor="middle">0</text>
<text x="300.8" y="118.3" font-size="7.6" fill="#1c1c1c" stroke="#1c1c1c" stroke-width="0.1" text-anchor="middle">20</text>
<text x="312.2" y="118.3" font-size="7.6" fill="#1c1c1c" stroke="#1c1c1c" stroke-width="0.1" text-anchor="middle">40</text>
<text x="323.6" y="118.3" font-size="7.6" fill="#1c1c1c" stroke="#1c1c1c" stroke-width="0.1" text-anchor="middle">60</text>
<text x="335" y="118.3" font-size="7.6" fill="#1c1c1c" stroke="#1c1c1c" stroke-width="0.1" text-anchor="middle">80</text>
<text x="341.7" y="118.3" font-size="7.6" fill="#333" stroke="#333" stroke-width="0.08" textLength="10.6" lengthAdjust="spacingAndGlyphs">(%)</text>
<rect x="295.7" y="54.65" width="5" height="9.4" fill="#70a55a"/>
<line x1="298.2" y1="54.65" x2="298.2" y2="64.05" stroke="#000" stroke-width="1.4" stroke-opacity="0.78"/>
<rect x="296.7" y="54.65" width="3" height="9.4" fill="#000" fill-opacity="0.55"/>
<rect x="292.4" y="69.4" width="1.9" height="6" rx="0.6" fill="#1a1a1a"/>
<rect x="294.1" y="82.6" width="2" height="6" rx="0.6" fill="#1a1a1a"/>
<circle cx="301.8" cy="85.6" r="1.0" fill="#222"/>
<line x1="293.2" y1="98.9" x2="298.1" y2="98.9" stroke="#a6cc94" stroke-width="1"/>
<line x1="293.2" y1="96.6" x2="293.2" y2="101.2" stroke="#a6cc94" stroke-width="1"/>
<line x1="323" y1="98.9" x2="340" y2="98.9" stroke="#a6cc94" stroke-width="1"/>
<line x1="340" y1="96.6" x2="340" y2="101.2" stroke="#a6cc94" stroke-width="1"/>
<rect x="298.1" y="94.2" width="24.9" height="9.4" fill="#70a55a"/>
<line x1="304.3" y1="94.2" x2="304.3" y2="103.6" stroke="#000" stroke-width="1.4" stroke-opacity="0.78"/>
<rect x="367.6" y="51.5" width="60" height="53.8" fill="#fff" stroke="#1e1e1e" stroke-width="1.2"/>
<rect x="367.6" y="38.8" width="60" height="12.7" fill="#4c6489" stroke="#141c28" stroke-width="1.2"/>
<text x="374.5" y="47.2" font-size="6.4" fill="#e9edf3" textLength="46.8" lengthAdjust="spacingAndGlyphs">Young donor (#B)</text>
<line x1="369.8" y1="105.3" x2="369.8" y2="108.3" stroke="#1e1e1e" stroke-width="0.9"/>
<line x1="381.2" y1="105.3" x2="381.2" y2="108.3" stroke="#1e1e1e" stroke-width="0.9"/>
<line x1="392.6" y1="105.3" x2="392.6" y2="108.3" stroke="#1e1e1e" stroke-width="0.9"/>
<line x1="404" y1="105.3" x2="404" y2="108.3" stroke="#1e1e1e" stroke-width="0.9"/>
<line x1="415.4" y1="105.3" x2="415.4" y2="108.3" stroke="#1e1e1e" stroke-width="0.9"/>
<text x="370.1" y="118.3" font-size="7.6" fill="#1c1c1c" stroke="#1c1c1c" stroke-width="0.1" text-anchor="middle">0</text>
<text x="381.5" y="118.3" font-size="7.6" fill="#1c1c1c" stroke="#1c1c1c" stroke-width="0.1" text-anchor="middle">20</text>
<text x="392.9" y="118.3" font-size="7.6" fill="#1c1c1c" stroke="#1c1c1c" stroke-width="0.1" text-anchor="middle">40</text>
<text x="404.3" y="118.3" font-size="7.6" fill="#1c1c1c" stroke="#1c1c1c" stroke-width="0.1" text-anchor="middle">60</text>
<text x="415.7" y="118.3" font-size="7.6" fill="#1c1c1c" stroke="#1c1c1c" stroke-width="0.1" text-anchor="middle">80</text>
<text x="421.7" y="118.3" font-size="7.6" fill="#333" stroke="#333" stroke-width="0.08" textLength="10.6" lengthAdjust="spacingAndGlyphs">(%)</text>
<line x1="380.5" y1="59.35" x2="382.6" y2="59.35" stroke="#cc8290" stroke-width="1"/>
<line x1="380.5" y1="56.85" x2="380.5" y2="61.85" stroke="#cc8290" stroke-width="1"/>
<line x1="384.6" y1="59.35" x2="386" y2="59.35" stroke="#cc8290" stroke-width="1"/>
<line x1="386" y1="56.85" x2="386" y2="61.85" stroke="#cc8290" stroke-width="1"/>
<rect x="382.6" y="55.85" width="2" height="7" fill="#a03241"/>
<line x1="383.7" y1="55.85" x2="383.7" y2="62.85" stroke="#000" stroke-width="1.4" stroke-opacity="0.78"/>
<line x1="405.3" y1="72.4" x2="407.4" y2="72.4" stroke="#cc8290" stroke-width="1"/>
<line x1="407.4" y1="69.9" x2="407.4" y2="74.9" stroke="#cc8290" stroke-width="1"/>
<rect x="399.8" y="68.9" width="5.5" height="7" fill="#a03241"/>
<line x1="402.1" y1="68.9" x2="402.1" y2="75.9" stroke="#000" stroke-width="1.4" stroke-opacity="0.78"/>
<circle cx="388.1" cy="72.4" r="1.0" fill="#a03241"/>
<line x1="373.6" y1="85.6" x2="375.7" y2="85.6" stroke="#cc8290" stroke-width="1"/>
<line x1="375.7" y1="83.1" x2="375.7" y2="88.1" stroke="#cc8290" stroke-width="1"/>
<rect x="370.1" y="82.1" width="3.5" height="7" fill="#a03241"/>
<line x1="371.5" y1="82.1" x2="371.5" y2="89.1" stroke="#000" stroke-width="1.4" stroke-opacity="0.78"/>
<rect x="369" y="95.4" width="2.2" height="7" fill="#a03241"/>
<line x1="370" y1="95.4" x2="370" y2="102.4" stroke="#000" stroke-width="1.4" stroke-opacity="0.78"/>
<rect x="447.6" y="51.5" width="60" height="53.8" fill="#fff" stroke="#1e1e1e" stroke-width="1.2"/>
<rect x="447.6" y="38.8" width="60" height="12.7" fill="#4c6489" stroke="#141c28" stroke-width="1.2"/>
<text x="454.5" y="47.2" font-size="6.4" fill="#e9edf3" textLength="46.8" lengthAdjust="spacingAndGlyphs">Young donor (#C)</text>
<line x1="448.9" y1="105.3" x2="448.9" y2="108.3" stroke="#1e1e1e" stroke-width="0.9"/>
<line x1="460.3" y1="105.3" x2="460.3" y2="108.3" stroke="#1e1e1e" stroke-width="0.9"/>
<line x1="471.7" y1="105.3" x2="471.7" y2="108.3" stroke="#1e1e1e" stroke-width="0.9"/>
<line x1="483.1" y1="105.3" x2="483.1" y2="108.3" stroke="#1e1e1e" stroke-width="0.9"/>
<line x1="494.5" y1="105.3" x2="494.5" y2="108.3" stroke="#1e1e1e" stroke-width="0.9"/>
<text x="449.2" y="118.3" font-size="7.6" fill="#1c1c1c" stroke="#1c1c1c" stroke-width="0.1" text-anchor="middle">0</text>
<text x="460.6" y="118.3" font-size="7.6" fill="#1c1c1c" stroke="#1c1c1c" stroke-width="0.1" text-anchor="middle">20</text>
<text x="472" y="118.3" font-size="7.6" fill="#1c1c1c" stroke="#1c1c1c" stroke-width="0.1" text-anchor="middle">40</text>
<text x="483.4" y="118.3" font-size="7.6" fill="#1c1c1c" stroke="#1c1c1c" stroke-width="0.1" text-anchor="middle">60</text>
<text x="494.8" y="118.3" font-size="7.6" fill="#1c1c1c" stroke="#1c1c1c" stroke-width="0.1" text-anchor="middle">80</text>
<text x="501.7" y="118.3" font-size="7.6" fill="#333" stroke="#333" stroke-width="0.08" textLength="10.6" lengthAdjust="spacingAndGlyphs">(%)</text>
<line x1="460.5" y1="59.35" x2="463.2" y2="59.35" stroke="#8294b4" stroke-width="1"/>
<line x1="460.5" y1="56.85" x2="460.5" y2="61.85" stroke="#8294b4" stroke-width="1"/>
<line x1="478" y1="59.35" x2="479.4" y2="59.35" stroke="#8294b4" stroke-width="1"/>
<line x1="479.4" y1="56.85" x2="479.4" y2="61.85" stroke="#8294b4" stroke-width="1"/>
<rect x="463.2" y="55.85" width="14.8" height="7" fill="#4e6487"/>
<line x1="469.2" y1="55.85" x2="469.2" y2="62.85" stroke="#000" stroke-width="1.4" stroke-opacity="0.78"/>
<line x1="450.4" y1="72.4" x2="453.2" y2="72.4" stroke="#8294b4" stroke-width="1"/>
<line x1="450.4" y1="69.9" x2="450.4" y2="74.9" stroke="#8294b4" stroke-width="1"/>
<rect x="453.2" y="68.9" width="6.3" height="7" fill="#4e6487"/>
<line x1="456.8" y1="68.9" x2="456.8" y2="75.9" stroke="#000" stroke-width="1.4" stroke-opacity="0.78"/>
<circle cx="477.4" cy="72.4" r="1.0" fill="#4e6487"/>
<rect x="449.8" y="82.6" width="1.5" height="6" rx="0.6" fill="#1a1a1a"/>
<rect x="449.4" y="95.4" width="1.4" height="7" fill="#b4b8bc"/>
<rect x="287.6" y="142.3" width="60" height="54" fill="#fff" stroke="#1e1e1e" stroke-width="1.2"/>
<rect x="287.6" y="129.6" width="60" height="12.7" fill="#a6334a" stroke="#2a0d14" stroke-width="1.2"/>
<text x="295.4" y="138" font-size="6.4" fill="#f6e4e8" textLength="45" lengthAdjust="spacingAndGlyphs">Aged donor (#D)</text>
<line x1="289.1" y1="196.3" x2="289.1" y2="199.3" stroke="#1e1e1e" stroke-width="0.9"/>
<line x1="300.5" y1="196.3" x2="300.5" y2="199.3" stroke="#1e1e1e" stroke-width="0.9"/>
<line x1="311.9" y1="196.3" x2="311.9" y2="199.3" stroke="#1e1e1e" stroke-width="0.9"/>
<line x1="323.3" y1="196.3" x2="323.3" y2="199.3" stroke="#1e1e1e" stroke-width="0.9"/>
<line x1="334.7" y1="196.3" x2="334.7" y2="199.3" stroke="#1e1e1e" stroke-width="0.9"/>
<text x="289.4" y="209.3" font-size="7.6" fill="#1c1c1c" stroke="#1c1c1c" stroke-width="0.1" text-anchor="middle">0</text>
<text x="300.8" y="209.3" font-size="7.6" fill="#1c1c1c" stroke="#1c1c1c" stroke-width="0.1" text-anchor="middle">20</text>
<text x="312.2" y="209.3" font-size="7.6" fill="#1c1c1c" stroke="#1c1c1c" stroke-width="0.1" text-anchor="middle">40</text>
<text x="323.6" y="209.3" font-size="7.6" fill="#1c1c1c" stroke="#1c1c1c" stroke-width="0.1" text-anchor="middle">60</text>
<text x="335" y="209.3" font-size="7.6" fill="#1c1c1c" stroke="#1c1c1c" stroke-width="0.1" text-anchor="middle">80</text>
<text x="341.7" y="209.3" font-size="7.6" fill="#333" stroke="#333" stroke-width="0.08" textLength="10.6" lengthAdjust="spacingAndGlyphs">(%)</text>
<line x1="305.3" y1="150" x2="306" y2="150" stroke="#a6cc94" stroke-width="1"/>
<line x1="305.3" y1="147.7" x2="305.3" y2="152.3" stroke="#a6cc94" stroke-width="1"/>
<rect x="306" y="145.3" width="5.5" height="9.4" fill="#70a55a"/>
<line x1="308.1" y1="145.3" x2="308.1" y2="154.7" stroke="#000" stroke-width="1.4" stroke-opacity="0.78"/>
<line x1="295.4" y1="163.3" x2="300.1" y2="163.3" stroke="#a6cc94" stroke-width="1"/>
<line x1="295.4" y1="161" x2="295.4" y2="165.6" stroke="#a6cc94" stroke-width="1"/>
<line x1="319.1" y1="163.3" x2="328.8" y2="163.3" stroke="#a6cc94" stroke-width="1"/>
<line x1="328.8" y1="161" x2="328.8" y2="165.6" stroke="#a6cc94" stroke-width="1"/>
<rect x="300.1" y="158.6" width="19" height="9.4" fill="#70a55a"/>
<line x1="310.1" y1="158.6" x2="310.1" y2="168" stroke="#000" stroke-width="1.4" stroke-opacity="0.78"/>
<rect x="292.2" y="173.55" width="1.4" height="6" fill="#b4b8bc"/>
<circle cx="292.2" cy="189.75" r="1.25" fill="#111"/>
<rect x="367.6" y="142.3" width="60" height="54" fill="#fff" stroke="#1e1e1e" stroke-width="1.2"/>
<rect x="367.6" y="129.6" width="60" height="12.7" fill="#a6334a" stroke="#2a0d14" stroke-width="1.2"/>
<text x="375.4" y="138" font-size="6.4" fill="#f6e4e8" textLength="45" lengthAdjust="spacingAndGlyphs">Aged donor (#E)</text>
<line x1="369.8" y1="196.3" x2="369.8" y2="199.3" stroke="#1e1e1e" stroke-width="0.9"/>
<line x1="381.2" y1="196.3" x2="381.2" y2="199.3" stroke="#1e1e1e" stroke-width="0.9"/>
<line x1="392.6" y1="196.3" x2="392.6" y2="199.3" stroke="#1e1e1e" stroke-width="0.9"/>
<line x1="404" y1="196.3" x2="404" y2="199.3" stroke="#1e1e1e" stroke-width="0.9"/>
<line x1="415.4" y1="196.3" x2="415.4" y2="199.3" stroke="#1e1e1e" stroke-width="0.9"/>
<text x="370.1" y="209.3" font-size="7.6" fill="#1c1c1c" stroke="#1c1c1c" stroke-width="0.1" text-anchor="middle">0</text>
<text x="381.5" y="209.3" font-size="7.6" fill="#1c1c1c" stroke="#1c1c1c" stroke-width="0.1" text-anchor="middle">20</text>
<text x="392.9" y="209.3" font-size="7.6" fill="#1c1c1c" stroke="#1c1c1c" stroke-width="0.1" text-anchor="middle">40</text>
<text x="404.3" y="209.3" font-size="7.6" fill="#1c1c1c" stroke="#1c1c1c" stroke-width="0.1" text-anchor="middle">60</text>
<text x="415.7" y="209.3" font-size="7.6" fill="#1c1c1c" stroke="#1c1c1c" stroke-width="0.1" text-anchor="middle">80</text>
<text x="421.7" y="209.3" font-size="7.6" fill="#333" stroke="#333" stroke-width="0.08" textLength="10.6" lengthAdjust="spacingAndGlyphs">(%)</text>
<rect x="393.6" y="146.75" width="1.6" height="6.5" rx="0.6" fill="#5a1020"/>
<circle cx="386" cy="150" r="1.0" fill="#a03241"/>
<circle cx="398.4" cy="150" r="1.0" fill="#a03241"/>
<line x1="377.7" y1="163.3" x2="380.1" y2="163.3" stroke="#cc8290" stroke-width="1"/>
<line x1="377.7" y1="160.8" x2="377.7" y2="165.8" stroke="#cc8290" stroke-width="1"/>
<rect x="380.1" y="159.8" width="7.7" height="7" fill="#a03241"/>
<line x1="385" y1="159.8" x2="385" y2="166.8" stroke="#000" stroke-width="1.4" stroke-opacity="0.78"/>
<circle cx="402.6" cy="163.3" r="1.0" fill="#a03241"/>
<line x1="375.9" y1="176.55" x2="384.2" y2="176.55" stroke="#cc8290" stroke-width="1"/>
<line x1="375.9" y1="174.05" x2="375.9" y2="179.05" stroke="#cc8290" stroke-width="1"/>
<line x1="399.8" y1="176.55" x2="401.9" y2="176.55" stroke="#cc8290" stroke-width="1"/>
<line x1="401.9" y1="174.05" x2="401.9" y2="179.05" stroke="#cc8290" stroke-width="1"/>
<rect x="384.2" y="173.05" width="15.6" height="7" fill="#a03241"/>
<line x1="388.3" y1="173.05" x2="388.3" y2="180.05" stroke="#000" stroke-width="1.4" stroke-opacity="0.78"/>
<line x1="375" y1="189.75" x2="378.7" y2="189.75" stroke="#cc8290" stroke-width="1"/>
<line x1="375" y1="187.25" x2="375" y2="192.25" stroke="#cc8290" stroke-width="1"/>
<line x1="395" y1="189.75" x2="417.7" y2="189.75" stroke="#cc8290" stroke-width="1"/>
<line x1="417.7" y1="187.25" x2="417.7" y2="192.25" stroke="#cc8290" stroke-width="1"/>
<rect x="378.7" y="186.25" width="16.3" height="7" fill="#a03241"/>
<line x1="390.6" y1="186.25" x2="390.6" y2="193.25" stroke="#000" stroke-width="1.4" stroke-opacity="0.78"/>
<rect x="447.6" y="142.3" width="60" height="54" fill="#fff" stroke="#1e1e1e" stroke-width="1.2"/>
<rect x="447.6" y="129.6" width="60" height="12.7" fill="#a6334a" stroke="#2a0d14" stroke-width="1.2"/>
<text x="455.4" y="138" font-size="6.4" fill="#f6e4e8" textLength="45" lengthAdjust="spacingAndGlyphs">Aged donor (#F)</text>
<line x1="448.9" y1="196.3" x2="448.9" y2="199.3" stroke="#1e1e1e" stroke-width="0.9"/>
<line x1="460.3" y1="196.3" x2="460.3" y2="199.3" stroke="#1e1e1e" stroke-width="0.9"/>
<line x1="471.7" y1="196.3" x2="471.7" y2="199.3" stroke="#1e1e1e" stroke-width="0.9"/>
<line x1="483.1" y1="196.3" x2="483.1" y2="199.3" stroke="#1e1e1e" stroke-width="0.9"/>
<line x1="494.5" y1="196.3" x2="494.5" y2="199.3" stroke="#1e1e1e" stroke-width="0.9"/>
<text x="449.2" y="209.3" font-size="7.6" fill="#1c1c1c" stroke="#1c1c1c" stroke-width="0.1" text-anchor="middle">0</text>
<text x="460.6" y="209.3" font-size="7.6" fill="#1c1c1c" stroke="#1c1c1c" stroke-width="0.1" text-anchor="middle">20</text>
<text x="472" y="209.3" font-size="7.6" fill="#1c1c1c" stroke="#1c1c1c" stroke-width="0.1" text-anchor="middle">40</text>
<text x="483.4" y="209.3" font-size="7.6" fill="#1c1c1c" stroke="#1c1c1c" stroke-width="0.1" text-anchor="middle">60</text>
<text x="494.8" y="209.3" font-size="7.6" fill="#1c1c1c" stroke="#1c1c1c" stroke-width="0.1" text-anchor="middle">80</text>
<text x="501.7" y="209.3" font-size="7.6" fill="#333" stroke="#333" stroke-width="0.08" textLength="10.6" lengthAdjust="spacingAndGlyphs">(%)</text>
<line x1="466.4" y1="150" x2="468.1" y2="150" stroke="#efcd80" stroke-width="1"/>
<line x1="466.4" y1="147.5" x2="466.4" y2="152.5" stroke="#efcd80" stroke-width="1"/>
<rect x="468.1" y="146.5" width="4.4" height="7" fill="#e4b43c"/>
<line x1="470.1" y1="146.5" x2="470.1" y2="153.5" stroke="#000" stroke-width="1.4" stroke-opacity="0.78"/>
<line x1="483.9" y1="163.3" x2="485.3" y2="163.3" stroke="#efcd80" stroke-width="1"/>
<line x1="485.3" y1="160.8" x2="485.3" y2="165.8" stroke="#efcd80" stroke-width="1"/>
<rect x="479.1" y="159.8" width="4.8" height="7" fill="#e4b43c"/>
<line x1="480.2" y1="159.8" x2="480.2" y2="166.8" stroke="#000" stroke-width="1.4" stroke-opacity="0.78"/>
<circle cx="468.8" cy="163.3" r="1.0" fill="#e4b43c"/>
<line x1="468.8" y1="176.55" x2="475" y2="176.55" stroke="#efcd80" stroke-width="1"/>
<line x1="475" y1="174.05" x2="475" y2="179.05" stroke="#efcd80" stroke-width="1"/>
<rect x="453.6" y="173.05" width="15.2" height="7" fill="#e4b43c"/>
<line x1="458.7" y1="173.05" x2="458.7" y2="180.05" stroke="#000" stroke-width="1.4" stroke-opacity="0.78"/>
<rect x="451" y="186.75" width="1" height="6" rx="0.6" fill="#1a1a1a"/>
<circle cx="475.2" cy="189.75" r="1.0" fill="#e4b43c"/>
<rect x="31.6" y="268.4" width="60" height="53.2" fill="#fff" stroke="#1e1e1e" stroke-width="1.2"/>
<rect x="31.6" y="255.7" width="60" height="12.7" fill="#4c6489" stroke="#141c28" stroke-width="1.2"/>
<text x="38.5" y="264.1" font-size="6.4" fill="#e9edf3" textLength="46.8" lengthAdjust="spacingAndGlyphs">Young donor (#A)</text>
<line x1="33.4" y1="321.6" x2="33.4" y2="324.6" stroke="#1e1e1e" stroke-width="0.9"/>
<line x1="44.8" y1="321.6" x2="44.8" y2="324.6" stroke="#1e1e1e" stroke-width="0.9"/>
<line x1="56.2" y1="321.6" x2="56.2" y2="324.6" stroke="#1e1e1e" stroke-width="0.9"/>
<line x1="67.6" y1="321.6" x2="67.6" y2="324.6" stroke="#1e1e1e" stroke-width="0.9"/>
<line x1="79" y1="321.6" x2="79" y2="324.6" stroke="#1e1e1e" stroke-width="0.9"/>
<text x="33.7" y="334.6" font-size="7.6" fill="#1c1c1c" stroke="#1c1c1c" stroke-width="0.1" text-anchor="middle">0</text>
<text x="45.1" y="334.6" font-size="7.6" fill="#1c1c1c" stroke="#1c1c1c" stroke-width="0.1" text-anchor="middle">20</text>
<text x="56.5" y="334.6" font-size="7.6" fill="#1c1c1c" stroke="#1c1c1c" stroke-width="0.1" text-anchor="middle">40</text>
<text x="67.9" y="334.6" font-size="7.6" fill="#1c1c1c" stroke="#1c1c1c" stroke-width="0.1" text-anchor="middle">60</text>
<text x="79.3" y="334.6" font-size="7.6" fill="#1c1c1c" stroke="#1c1c1c" stroke-width="0.1" text-anchor="middle">80</text>
<text x="85.7" y="334.6" font-size="7.6" fill="#333" stroke="#333" stroke-width="0.08" textLength="10.6" lengthAdjust="spacingAndGlyphs">(%)</text>
<line x1="37.6" y1="275.6" x2="39.9" y2="275.6" stroke="#efcd80" stroke-width="1"/>
<line x1="37.6" y1="272.6" x2="37.6" y2="278.6" stroke="#efcd80" stroke-width="1"/>
<line x1="47.9" y1="275.6" x2="57.3" y2="275.6" stroke="#efcd80" stroke-width="1"/>
<line x1="57.3" y1="272.6" x2="57.3" y2="278.6" stroke="#efcd80" stroke-width="1"/>
<rect x="39.9" y="271.1" width="8" height="9" fill="#e4b43c"/>
<line x1="41.3" y1="271.1" x2="41.3" y2="280.1" stroke="#000" stroke-width="1.4" stroke-opacity="0.78"/>
<line x1="80.8" y1="295.3" x2="82.4" y2="295.3" stroke="#efcd80" stroke-width="1"/>
<line x1="82.4" y1="292.3" x2="82.4" y2="298.3" stroke="#efcd80" stroke-width="1"/>
<rect x="63.8" y="290.8" width="17" height="9" fill="#e4b43c"/>
<line x1="72.5" y1="290.8" x2="72.5" y2="299.8" stroke="#000" stroke-width="1.4" stroke-opacity="0.78"/>
<line x1="61.4" y1="315" x2="65.2" y2="315" stroke="#efcd80" stroke-width="1"/>
<line x1="61.4" y1="312" x2="61.4" y2="318" stroke="#efcd80" stroke-width="1"/>
<line x1="67.9" y1="315" x2="71.1" y2="315" stroke="#efcd80" stroke-width="1"/>
<line x1="71.1" y1="312" x2="71.1" y2="318" stroke="#efcd80" stroke-width="1"/>
<rect x="65.2" y="310.5" width="2.7" height="9" fill="#e4b43c"/>
<line x1="66.1" y1="310.5" x2="66.1" y2="319.5" stroke="#000" stroke-width="1.4" stroke-opacity="0.78"/>
<rect x="111.6" y="268.4" width="60" height="53.2" fill="#fff" stroke="#1e1e1e" stroke-width="1.2"/>
<rect x="111.6" y="255.7" width="60" height="12.7" fill="#4c6489" stroke="#141c28" stroke-width="1.2"/>
<text x="118.5" y="264.1" font-size="6.4" fill="#e9edf3" textLength="46.8" lengthAdjust="spacingAndGlyphs">Young donor (#B)</text>
<line x1="113.4" y1="321.6" x2="113.4" y2="324.6" stroke="#1e1e1e" stroke-width="0.9"/>
<line x1="124.8" y1="321.6" x2="124.8" y2="324.6" stroke="#1e1e1e" stroke-width="0.9"/>
<line x1="136.2" y1="321.6" x2="136.2" y2="324.6" stroke="#1e1e1e" stroke-width="0.9"/>
<line x1="147.6" y1="321.6" x2="147.6" y2="324.6" stroke="#1e1e1e" stroke-width="0.9"/>
<line x1="159" y1="321.6" x2="159" y2="324.6" stroke="#1e1e1e" stroke-width="0.9"/>
<text x="113.7" y="334.6" font-size="7.6" fill="#1c1c1c" stroke="#1c1c1c" stroke-width="0.1" text-anchor="middle">0</text>
<text x="125.1" y="334.6" font-size="7.6" fill="#1c1c1c" stroke="#1c1c1c" stroke-width="0.1" text-anchor="middle">20</text>
<text x="136.5" y="334.6" font-size="7.6" fill="#1c1c1c" stroke="#1c1c1c" stroke-width="0.1" text-anchor="middle">40</text>
<text x="147.9" y="334.6" font-size="7.6" fill="#1c1c1c" stroke="#1c1c1c" stroke-width="0.1" text-anchor="middle">60</text>
<text x="159.3" y="334.6" font-size="7.6" fill="#1c1c1c" stroke="#1c1c1c" stroke-width="0.1" text-anchor="middle">80</text>
<text x="165.7" y="334.6" font-size="7.6" fill="#333" stroke="#333" stroke-width="0.08" textLength="10.6" lengthAdjust="spacingAndGlyphs">(%)</text>
<rect x="128.6" y="271.1" width="9.7" height="9" fill="#e4b43c"/>
<line x1="137.6" y1="271.1" x2="137.6" y2="280.1" stroke="#000" stroke-width="1.4" stroke-opacity="0.78"/>
<line x1="132.3" y1="295.3" x2="134.6" y2="295.3" stroke="#efcd80" stroke-width="1"/>
<line x1="132.3" y1="292.3" x2="132.3" y2="298.3" stroke="#efcd80" stroke-width="1"/>
<line x1="148.9" y1="295.3" x2="156.9" y2="295.3" stroke="#efcd80" stroke-width="1"/>
<line x1="156.9" y1="292.3" x2="156.9" y2="298.3" stroke="#efcd80" stroke-width="1"/>
<rect x="134.6" y="290.8" width="14.3" height="9" fill="#e4b43c"/>
<line x1="139" y1="290.8" x2="139" y2="299.8" stroke="#000" stroke-width="1.4" stroke-opacity="0.78"/>
<line x1="162.1" y1="315" x2="164.9" y2="315" stroke="#efcd80" stroke-width="1"/>
<line x1="164.9" y1="312" x2="164.9" y2="318" stroke="#efcd80" stroke-width="1"/>
<rect x="159.9" y="310.5" width="2.2" height="9" fill="#e4b43c"/>
<line x1="160.8" y1="310.5" x2="160.8" y2="319.5" stroke="#000" stroke-width="1.4" stroke-opacity="0.78"/>
<circle cx="151.1" cy="315" r="1.0" fill="#e4b43c"/>
<rect x="191.6" y="268.4" width="60" height="53.2" fill="#fff" stroke="#1e1e1e" stroke-width="1.2"/>
<rect x="191.6" y="255.7" width="60" height="12.7" fill="#4c6489" stroke="#141c28" stroke-width="1.2"/>
<text x="198.5" y="264.1" font-size="6.4" fill="#e9edf3" textLength="46.8" lengthAdjust="spacingAndGlyphs">Young donor (#C)</text>
<line x1="192.9" y1="321.6" x2="192.9" y2="324.6" stroke="#1e1e1e" stroke-width="0.9"/>
<line x1="204.3" y1="321.6" x2="204.3" y2="324.6" stroke="#1e1e1e" stroke-width="0.9"/>
<line x1="215.7" y1="321.6" x2="215.7" y2="324.6" stroke="#1e1e1e" stroke-width="0.9"/>
<line x1="227.1" y1="321.6" x2="227.1" y2="324.6" stroke="#1e1e1e" stroke-width="0.9"/>
<line x1="238.5" y1="321.6" x2="238.5" y2="324.6" stroke="#1e1e1e" stroke-width="0.9"/>
<text x="193.2" y="334.6" font-size="7.6" fill="#1c1c1c" stroke="#1c1c1c" stroke-width="0.1" text-anchor="middle">0</text>
<text x="204.6" y="334.6" font-size="7.6" fill="#1c1c1c" stroke="#1c1c1c" stroke-width="0.1" text-anchor="middle">20</text>
<text x="216" y="334.6" font-size="7.6" fill="#1c1c1c" stroke="#1c1c1c" stroke-width="0.1" text-anchor="middle">40</text>
<text x="227.4" y="334.6" font-size="7.6" fill="#1c1c1c" stroke="#1c1c1c" stroke-width="0.1" text-anchor="middle">60</text>
<text x="238.8" y="334.6" font-size="7.6" fill="#1c1c1c" stroke="#1c1c1c" stroke-width="0.1" text-anchor="middle">80</text>
<text x="245.7" y="334.6" font-size="7.6" fill="#333" stroke="#333" stroke-width="0.08" textLength="10.6" lengthAdjust="spacingAndGlyphs">(%)</text>
<line x1="193.4" y1="275.6" x2="196.2" y2="275.6" stroke="#efcd80" stroke-width="1"/>
<line x1="193.4" y1="272.6" x2="193.4" y2="278.6" stroke="#efcd80" stroke-width="1"/>
<rect x="196.2" y="271.1" width="3.2" height="9" fill="#e4b43c"/>
<line x1="196.9" y1="271.1" x2="196.9" y2="280.1" stroke="#000" stroke-width="1.4" stroke-opacity="0.78"/>
<circle cx="211" cy="275.6" r="1.0" fill="#e4b43c"/>
<line x1="230.2" y1="295.3" x2="231.6" y2="295.3" stroke="#efcd80" stroke-width="1"/>
<line x1="231.6" y1="292.3" x2="231.6" y2="298.3" stroke="#efcd80" stroke-width="1"/>
<rect x="225" y="290.8" width="5.2" height="9" fill="#e4b43c"/>
<circle cx="203.5" cy="295.3" r="1.0" fill="#e4b43c"/>
<line x1="244.5" y1="315" x2="246.3" y2="315" stroke="#efcd80" stroke-width="1"/>
<line x1="244.5" y1="312" x2="244.5" y2="318" stroke="#efcd80" stroke-width="1"/>
<rect x="246.3" y="310.5" width="3" height="9" fill="#e4b43c"/>
<line x1="247.9" y1="310.5" x2="247.9" y2="319.5" stroke="#000" stroke-width="1.4" stroke-opacity="0.78"/>
<rect x="31.6" y="359" width="60" height="53.4" fill="#fff" stroke="#1e1e1e" stroke-width="1.2"/>
<rect x="31.6" y="346.3" width="60" height="12.7" fill="#a6334a" stroke="#2a0d14" stroke-width="1.2"/>
<text x="39.4" y="354.7" font-size="6.4" fill="#f6e4e8" textLength="45" lengthAdjust="spacingAndGlyphs">Aged donor (#D)</text>
<line x1="33.4" y1="412.4" x2="33.4" y2="415.4" stroke="#1e1e1e" stroke-width="0.9"/>
<line x1="44.8" y1="412.4" x2="44.8" y2="415.4" stroke="#1e1e1e" stroke-width="0.9"/>
<line x1="56.2" y1="412.4" x2="56.2" y2="415.4" stroke="#1e1e1e" stroke-width="0.9"/>
<line x1="67.6" y1="412.4" x2="67.6" y2="415.4" stroke="#1e1e1e" stroke-width="0.9"/>
<line x1="79" y1="412.4" x2="79" y2="415.4" stroke="#1e1e1e" stroke-width="0.9"/>
<text x="33.7" y="425.4" font-size="7.6" fill="#1c1c1c" stroke="#1c1c1c" stroke-width="0.1" text-anchor="middle">0</text>
<text x="45.1" y="425.4" font-size="7.6" fill="#1c1c1c" stroke="#1c1c1c" stroke-width="0.1" text-anchor="middle">10</text>
<text x="56.5" y="425.4" font-size="7.6" fill="#1c1c1c" stroke="#1c1c1c" stroke-width="0.1" text-anchor="middle">20</text>
<text x="67.9" y="425.4" font-size="7.6" fill="#1c1c1c" stroke="#1c1c1c" stroke-width="0.1" text-anchor="middle">30</text>
<text x="79.3" y="425.4" font-size="7.6" fill="#1c1c1c" stroke="#1c1c1c" stroke-width="0.1" text-anchor="middle">40</text>
<text x="85.7" y="425.4" font-size="7.6" fill="#333" stroke="#333" stroke-width="0.08" textLength="10.6" lengthAdjust="spacingAndGlyphs">(%)</text>
<line x1="76.9" y1="368.1" x2="84.5" y2="368.1" stroke="#a6cc94" stroke-width="1"/>
<line x1="84.5" y1="365.8" x2="84.5" y2="370.4" stroke="#a6cc94" stroke-width="1"/>
<rect x="49" y="363.4" width="27.9" height="9.4" fill="#70a55a"/>
<line x1="59.7" y1="363.4" x2="59.7" y2="372.8" stroke="#000" stroke-width="1.4" stroke-opacity="0.78"/>
<rect x="36.2" y="382" width="3.2" height="8.6" rx="1.6" fill="#3a3a3a"/>
<circle cx="45.9" cy="386.3" r="1.0" fill="#222"/>
<circle cx="39.4" cy="404.4" r="1.0" fill="#222"/>
<rect x="111.6" y="359" width="60" height="53.4" fill="#fff" stroke="#1e1e1e" stroke-width="1.2"/>
<rect x="111.6" y="346.3" width="60" height="12.7" fill="#a6334a" stroke="#2a0d14" stroke-width="1.2"/>
<text x="119.4" y="354.7" font-size="6.4" fill="#f6e4e8" textLength="45" lengthAdjust="spacingAndGlyphs">Aged donor (#E)</text>
<line x1="113.4" y1="412.4" x2="113.4" y2="415.4" stroke="#1e1e1e" stroke-width="0.9"/>
<line x1="124.8" y1="412.4" x2="124.8" y2="415.4" stroke="#1e1e1e" stroke-width="0.9"/>
<line x1="136.2" y1="412.4" x2="136.2" y2="415.4" stroke="#1e1e1e" stroke-width="0.9"/>
<line x1="147.6" y1="412.4" x2="147.6" y2="415.4" stroke="#1e1e1e" stroke-width="0.9"/>
<line x1="159" y1="412.4" x2="159" y2="415.4" stroke="#1e1e1e" stroke-width="0.9"/>
<text x="113.7" y="425.4" font-size="7.6" fill="#1c1c1c" stroke="#1c1c1c" stroke-width="0.1" text-anchor="middle">0</text>
<text x="125.1" y="425.4" font-size="7.6" fill="#1c1c1c" stroke="#1c1c1c" stroke-width="0.1" text-anchor="middle">20</text>
<text x="136.5" y="425.4" font-size="7.6" fill="#1c1c1c" stroke="#1c1c1c" stroke-width="0.1" text-anchor="middle">40</text>
<text x="147.9" y="425.4" font-size="7.6" fill="#1c1c1c" stroke="#1c1c1c" stroke-width="0.1" text-anchor="middle">60</text>
<text x="159.3" y="425.4" font-size="7.6" fill="#1c1c1c" stroke="#1c1c1c" stroke-width="0.1" text-anchor="middle">80</text>
<text x="165.7" y="425.4" font-size="7.6" fill="#333" stroke="#333" stroke-width="0.08" textLength="10.6" lengthAdjust="spacingAndGlyphs">(%)</text>
<line x1="134.6" y1="368.1" x2="139" y2="368.1" stroke="#8294b4" stroke-width="1"/>
<line x1="139" y1="365.1" x2="139" y2="371.1" stroke="#8294b4" stroke-width="1"/>
<rect x="125.9" y="363.6" width="8.7" height="9" fill="#4e6487"/>
<line x1="127.9" y1="363.6" x2="127.9" y2="372.6" stroke="#000" stroke-width="1.4" stroke-opacity="0.78"/>
<rect x="125.9" y="381.8" width="11.7" height="9" fill="#4e6487"/>
<line x1="132.1" y1="381.8" x2="132.1" y2="390.8" stroke="#000" stroke-width="1.4" stroke-opacity="0.78"/>
<line x1="119" y1="404.4" x2="120.3" y2="404.4" stroke="#8294b4" stroke-width="1"/>
<line x1="119" y1="401.4" x2="119" y2="407.4" stroke="#8294b4" stroke-width="1"/>
<line x1="139.7" y1="404.4" x2="148.9" y2="404.4" stroke="#8294b4" stroke-width="1"/>
<line x1="148.9" y1="401.4" x2="148.9" y2="407.4" stroke="#8294b4" stroke-width="1"/>
<rect x="120.3" y="399.9" width="19.4" height="9" fill="#4e6487"/>
<line x1="126.3" y1="399.9" x2="126.3" y2="408.9" stroke="#000" stroke-width="1.4" stroke-opacity="0.78"/>
<rect x="191.6" y="359" width="60" height="53.4" fill="#fff" stroke="#1e1e1e" stroke-width="1.2"/>
<rect x="191.6" y="346.3" width="60" height="12.7" fill="#a6334a" stroke="#2a0d14" stroke-width="1.2"/>
<text x="199.4" y="354.7" font-size="6.4" fill="#f6e4e8" textLength="45" lengthAdjust="spacingAndGlyphs">Aged donor (#F)</text>
<line x1="192.9" y1="412.4" x2="192.9" y2="415.4" stroke="#1e1e1e" stroke-width="0.9"/>
<line x1="204.3" y1="412.4" x2="204.3" y2="415.4" stroke="#1e1e1e" stroke-width="0.9"/>
<line x1="215.7" y1="412.4" x2="215.7" y2="415.4" stroke="#1e1e1e" stroke-width="0.9"/>
<line x1="227.1" y1="412.4" x2="227.1" y2="415.4" stroke="#1e1e1e" stroke-width="0.9"/>
<line x1="238.5" y1="412.4" x2="238.5" y2="415.4" stroke="#1e1e1e" stroke-width="0.9"/>
<text x="193.2" y="425.4" font-size="7.6" fill="#1c1c1c" stroke="#1c1c1c" stroke-width="0.1" text-anchor="middle">0</text>
<text x="204.6" y="425.4" font-size="7.6" fill="#1c1c1c" stroke="#1c1c1c" stroke-width="0.1" text-anchor="middle">20</text>
<text x="216" y="425.4" font-size="7.6" fill="#1c1c1c" stroke="#1c1c1c" stroke-width="0.1" text-anchor="middle">40</text>
<text x="227.4" y="425.4" font-size="7.6" fill="#1c1c1c" stroke="#1c1c1c" stroke-width="0.1" text-anchor="middle">60</text>
<text x="238.8" y="425.4" font-size="7.6" fill="#1c1c1c" stroke="#1c1c1c" stroke-width="0.1" text-anchor="middle">80</text>
<text x="245.7" y="425.4" font-size="7.6" fill="#333" stroke="#333" stroke-width="0.08" textLength="10.6" lengthAdjust="spacingAndGlyphs">(%)</text>
<line x1="218.7" y1="368.1" x2="221" y2="368.1" stroke="#cc8290" stroke-width="1"/>
<line x1="221" y1="365.1" x2="221" y2="371.1" stroke="#cc8290" stroke-width="1"/>
<rect x="216.2" y="363.6" width="2.5" height="9" fill="#a03241"/>
<line x1="217.5" y1="363.6" x2="217.5" y2="372.6" stroke="#000" stroke-width="1.4" stroke-opacity="0.78"/>
<circle cx="207.9" cy="368.1" r="1.0" fill="#a03241"/>
<line x1="227.5" y1="386.3" x2="230.7" y2="386.3" stroke="#cc8290" stroke-width="1"/>
<line x1="230.7" y1="383.3" x2="230.7" y2="389.3" stroke="#cc8290" stroke-width="1"/>
<rect x="223.5" y="381.8" width="4" height="9" fill="#a03241"/>
<line x1="227" y1="381.8" x2="227" y2="390.8" stroke="#000" stroke-width="1.4" stroke-opacity="0.78"/>
<circle cx="213.2" cy="386.3" r="1.0" fill="#a03241"/>
<line x1="205.4" y1="404.4" x2="216.2" y2="404.4" stroke="#cc8290" stroke-width="1"/>
<line x1="216.2" y1="401.4" x2="216.2" y2="407.4" stroke="#cc8290" stroke-width="1"/>
<rect x="195.2" y="399.9" width="10.2" height="9" fill="#a03241"/>
<line x1="199.4" y1="399.9" x2="199.4" y2="408.9" stroke="#000" stroke-width="1.4" stroke-opacity="0.78"/>
<rect x="287.6" y="268.4" width="60" height="53.2" fill="#fff" stroke="#1e1e1e" stroke-width="1.2"/>
<rect x="287.6" y="255.7" width="60" height="12.7" fill="#4c6489" stroke="#141c28" stroke-width="1.2"/>
<text x="294.5" y="264.1" font-size="6.4" fill="#e9edf3" textLength="46.8" lengthAdjust="spacingAndGlyphs">Young donor (#A)</text>
<line x1="289.1" y1="321.6" x2="289.1" y2="324.6" stroke="#1e1e1e" stroke-width="0.9"/>
<line x1="300.5" y1="321.6" x2="300.5" y2="324.6" stroke="#1e1e1e" stroke-width="0.9"/>
<line x1="311.9" y1="321.6" x2="311.9" y2="324.6" stroke="#1e1e1e" stroke-width="0.9"/>
<line x1="323.3" y1="321.6" x2="323.3" y2="324.6" stroke="#1e1e1e" stroke-width="0.9"/>
<line x1="334.7" y1="321.6" x2="334.7" y2="324.6" stroke="#1e1e1e" stroke-width="0.9"/>
<text x="289.4" y="334.6" font-size="7.6" fill="#1c1c1c" stroke="#1c1c1c" stroke-width="0.1" text-anchor="middle">0</text>
<text x="300.8" y="334.6" font-size="7.6" fill="#1c1c1c" stroke="#1c1c1c" stroke-width="0.1" text-anchor="middle">20</text>
<text x="312.2" y="334.6" font-size="7.6" fill="#1c1c1c" stroke="#1c1c1c" stroke-width="0.1" text-anchor="middle">40</text>
<text x="323.6" y="334.6" font-size="7.6" fill="#1c1c1c" stroke="#1c1c1c" stroke-width="0.1" text-anchor="middle">60</text>
<text x="335" y="334.6" font-size="7.6" fill="#1c1c1c" stroke="#1c1c1c" stroke-width="0.1" text-anchor="middle">80</text>
<text x="341.7" y="334.6" font-size="7.6" fill="#333" stroke="#333" stroke-width="0.08" textLength="10.6" lengthAdjust="spacingAndGlyphs">(%)</text>
<rect x="291.4" y="271.4" width="1.5" height="8.4" fill="#c4c8d0"/>
<circle cx="301.5" cy="275.6" r="1.25" fill="#202040"/>
<line x1="301.9" y1="295.3" x2="318.4" y2="295.3" stroke="#a6cc94" stroke-width="1"/>
<line x1="301.9" y1="293" x2="301.9" y2="297.6" stroke="#a6cc94" stroke-width="1"/>
<rect x="318.4" y="290.6" width="16.2" height="9.4" fill="#70a55a"/>
<line x1="323.5" y1="290.6" x2="323.5" y2="300" stroke="#000" stroke-width="1.4" stroke-opacity="0.78"/>
<line x1="316.6" y1="315" x2="327.1" y2="315" stroke="#a6cc94" stroke-width="1"/>
<line x1="316.6" y1="312.7" x2="316.6" y2="317.3" stroke="#a6cc94" stroke-width="1"/>
<line x1="340.9" y1="315" x2="342.3" y2="315" stroke="#a6cc94" stroke-width="1"/>
<line x1="342.3" y1="312.7" x2="342.3" y2="317.3" stroke="#a6cc94" stroke-width="1"/>
<rect x="327.1" y="310.3" width="13.8" height="9.4" fill="#70a55a"/>
<line x1="337.7" y1="310.3" x2="337.7" y2="319.7" stroke="#000" stroke-width="1.4" stroke-opacity="0.78"/>
<rect x="367.6" y="268.4" width="60" height="53.2" fill="#fff" stroke="#1e1e1e" stroke-width="1.2"/>
<rect x="367.6" y="255.7" width="60" height="12.7" fill="#4c6489" stroke="#141c28" stroke-width="1.2"/>
<text x="374.5" y="264.1" font-size="6.4" fill="#e9edf3" textLength="46.8" lengthAdjust="spacingAndGlyphs">Young donor (#B)</text>
<line x1="369.8" y1="321.6" x2="369.8" y2="324.6" stroke="#1e1e1e" stroke-width="0.9"/>
<line x1="381.2" y1="321.6" x2="381.2" y2="324.6" stroke="#1e1e1e" stroke-width="0.9"/>
<line x1="392.6" y1="321.6" x2="392.6" y2="324.6" stroke="#1e1e1e" stroke-width="0.9"/>
<line x1="404" y1="321.6" x2="404" y2="324.6" stroke="#1e1e1e" stroke-width="0.9"/>
<line x1="415.4" y1="321.6" x2="415.4" y2="324.6" stroke="#1e1e1e" stroke-width="0.9"/>
<text x="370.1" y="334.6" font-size="7.6" fill="#1c1c1c" stroke="#1c1c1c" stroke-width="0.1" text-anchor="middle">0</text>
<text x="381.5" y="334.6" font-size="7.6" fill="#1c1c1c" stroke="#1c1c1c" stroke-width="0.1" text-anchor="middle">20</text>
<text x="392.9" y="334.6" font-size="7.6" fill="#1c1c1c" stroke="#1c1c1c" stroke-width="0.1" text-anchor="middle">40</text>
<text x="404.3" y="334.6" font-size="7.6" fill="#1c1c1c" stroke="#1c1c1c" stroke-width="0.1" text-anchor="middle">60</text>
<text x="415.7" y="334.6" font-size="7.6" fill="#1c1c1c" stroke="#1c1c1c" stroke-width="0.1" text-anchor="middle">80</text>
<text x="421.7" y="334.6" font-size="7.6" fill="#333" stroke="#333" stroke-width="0.08" textLength="10.6" lengthAdjust="spacingAndGlyphs">(%)</text>
<rect x="393.9" y="271.1" width="8.2" height="9" fill="#e4b43c"/>
<line x1="397.4" y1="271.1" x2="397.4" y2="280.1" stroke="#000" stroke-width="1.4" stroke-opacity="0.78"/>
<line x1="375.4" y1="295.3" x2="388.1" y2="295.3" stroke="#efcd80" stroke-width="1"/>
<line x1="375.4" y1="292.3" x2="375.4" y2="298.3" stroke="#efcd80" stroke-width="1"/>
<rect x="388.1" y="290.8" width="19.6" height="9" fill="#e4b43c"/>
<line x1="400.5" y1="290.8" x2="400.5" y2="299.8" stroke="#000" stroke-width="1.4" stroke-opacity="0.78"/>
<rect x="406.7" y="310.5" width="14.2" height="9" fill="#e4b43c"/>
<line x1="412.6" y1="310.5" x2="412.6" y2="319.5" stroke="#000" stroke-width="1.4" stroke-opacity="0.78"/>
<circle cx="384.2" cy="315" r="1.0" fill="#e4b43c"/>
<rect x="447.6" y="268.4" width="60" height="53.2" fill="#fff" stroke="#1e1e1e" stroke-width="1.2"/>
<rect x="447.6" y="255.7" width="60" height="12.7" fill="#4c6489" stroke="#141c28" stroke-width="1.2"/>
<text x="454.5" y="264.1" font-size="6.4" fill="#e9edf3" textLength="46.8" lengthAdjust="spacingAndGlyphs">Young donor (#C)</text>
<line x1="448.9" y1="321.6" x2="448.9" y2="324.6" stroke="#1e1e1e" stroke-width="0.9"/>
<line x1="460.3" y1="321.6" x2="460.3" y2="324.6" stroke="#1e1e1e" stroke-width="0.9"/>
<line x1="471.7" y1="321.6" x2="471.7" y2="324.6" stroke="#1e1e1e" stroke-width="0.9"/>
<line x1="483.1" y1="321.6" x2="483.1" y2="324.6" stroke="#1e1e1e" stroke-width="0.9"/>
<line x1="494.5" y1="321.6" x2="494.5" y2="324.6" stroke="#1e1e1e" stroke-width="0.9"/>
<text x="449.2" y="334.6" font-size="7.6" fill="#1c1c1c" stroke="#1c1c1c" stroke-width="0.1" text-anchor="middle">0</text>
<text x="460.6" y="334.6" font-size="7.6" fill="#1c1c1c" stroke="#1c1c1c" stroke-width="0.1" text-anchor="middle">20</text>
<text x="472" y="334.6" font-size="7.6" fill="#1c1c1c" stroke="#1c1c1c" stroke-width="0.1" text-anchor="middle">40</text>
<text x="483.4" y="334.6" font-size="7.6" fill="#1c1c1c" stroke="#1c1c1c" stroke-width="0.1" text-anchor="middle">60</text>
<text x="494.8" y="334.6" font-size="7.6" fill="#1c1c1c" stroke="#1c1c1c" stroke-width="0.1" text-anchor="middle">80</text>
<text x="501.7" y="334.6" font-size="7.6" fill="#333" stroke="#333" stroke-width="0.08" textLength="10.6" lengthAdjust="spacingAndGlyphs">(%)</text>
<line x1="452.2" y1="275.6" x2="454" y2="275.6" stroke="#efcd80" stroke-width="1"/>
<line x1="452.2" y1="272.6" x2="452.2" y2="278.6" stroke="#efcd80" stroke-width="1"/>
<rect x="454" y="271.1" width="8.6" height="9" fill="#e4b43c"/>
<line x1="457.3" y1="271.1" x2="457.3" y2="280.1" stroke="#000" stroke-width="1.4" stroke-opacity="0.78"/>
<line x1="459.8" y1="295.3" x2="470.1" y2="295.3" stroke="#efcd80" stroke-width="1"/>
<line x1="459.8" y1="292.3" x2="459.8" y2="298.3" stroke="#efcd80" stroke-width="1"/>
<line x1="481.9" y1="295.3" x2="495.4" y2="295.3" stroke="#efcd80" stroke-width="1"/>
<line x1="495.4" y1="292.3" x2="495.4" y2="298.3" stroke="#efcd80" stroke-width="1"/>
<rect x="470.1" y="290.8" width="11.8" height="9" fill="#e4b43c"/>
<line x1="475.7" y1="290.8" x2="475.7" y2="299.8" stroke="#000" stroke-width="1.4" stroke-opacity="0.78"/>
<rect x="505" y="311" width="1.7" height="8" fill="#b8a878"/>
<rect x="287.6" y="359" width="60" height="53.4" fill="#fff" stroke="#1e1e1e" stroke-width="1.2"/>
<rect x="287.6" y="346.3" width="60" height="12.7" fill="#a6334a" stroke="#2a0d14" stroke-width="1.2"/>
<text x="295.4" y="354.7" font-size="6.4" fill="#f6e4e8" textLength="45" lengthAdjust="spacingAndGlyphs">Aged donor (#D)</text>
<line x1="289.1" y1="412.4" x2="289.1" y2="415.4" stroke="#1e1e1e" stroke-width="0.9"/>
<line x1="300.5" y1="412.4" x2="300.5" y2="415.4" stroke="#1e1e1e" stroke-width="0.9"/>
<line x1="311.9" y1="412.4" x2="311.9" y2="415.4" stroke="#1e1e1e" stroke-width="0.9"/>
<line x1="323.3" y1="412.4" x2="323.3" y2="415.4" stroke="#1e1e1e" stroke-width="0.9"/>
<line x1="334.7" y1="412.4" x2="334.7" y2="415.4" stroke="#1e1e1e" stroke-width="0.9"/>
<text x="289.4" y="425.4" font-size="7.6" fill="#1c1c1c" stroke="#1c1c1c" stroke-width="0.1" text-anchor="middle">0</text>
<text x="300.8" y="425.4" font-size="7.6" fill="#1c1c1c" stroke="#1c1c1c" stroke-width="0.1" text-anchor="middle">20</text>
<text x="312.2" y="425.4" font-size="7.6" fill="#1c1c1c" stroke="#1c1c1c" stroke-width="0.1" text-anchor="middle">40</text>
<text x="323.6" y="425.4" font-size="7.6" fill="#1c1c1c" stroke="#1c1c1c" stroke-width="0.1" text-anchor="middle">60</text>
<text x="335" y="425.4" font-size="7.6" fill="#1c1c1c" stroke="#1c1c1c" stroke-width="0.1" text-anchor="middle">80</text>
<text x="341.7" y="425.4" font-size="7.6" fill="#333" stroke="#333" stroke-width="0.08" textLength="10.6" lengthAdjust="spacingAndGlyphs">(%)</text>
<rect x="300.2" y="364.4" width="2.1" height="7.4" rx="1" fill="#6a1525"/>
<line x1="295.4" y1="386.3" x2="306" y2="386.3" stroke="#cc8290" stroke-width="1"/>
<line x1="295.4" y1="383.3" x2="295.4" y2="389.3" stroke="#cc8290" stroke-width="1"/>
<line x1="313.6" y1="386.3" x2="316.3" y2="386.3" stroke="#cc8290" stroke-width="1"/>
<line x1="316.3" y1="383.3" x2="316.3" y2="389.3" stroke="#cc8290" stroke-width="1"/>
<rect x="306" y="381.8" width="7.6" height="9" fill="#a03241"/>
<line x1="306.7" y1="381.8" x2="306.7" y2="390.8" stroke="#000" stroke-width="1.4" stroke-opacity="0.78"/>
<line x1="291.2" y1="404.4" x2="299.5" y2="404.4" stroke="#cc8290" stroke-width="1"/>
<line x1="291.2" y1="401.4" x2="291.2" y2="407.4" stroke="#cc8290" stroke-width="1"/>
<rect x="299.5" y="399.9" width="19.9" height="9" fill="#a03241"/>
<line x1="306.4" y1="399.9" x2="306.4" y2="408.9" stroke="#000" stroke-width="1.4" stroke-opacity="0.78"/>
<rect x="367.6" y="359" width="60" height="53.4" fill="#fff" stroke="#1e1e1e" stroke-width="1.2"/>
<rect x="367.6" y="346.3" width="60" height="12.7" fill="#a6334a" stroke="#2a0d14" stroke-width="1.2"/>
<text x="375.4" y="354.7" font-size="6.4" fill="#f6e4e8" textLength="45" lengthAdjust="spacingAndGlyphs">Aged donor (#E)</text>
<line x1="369.8" y1="412.4" x2="369.8" y2="415.4" stroke="#1e1e1e" stroke-width="0.9"/>
<line x1="381.2" y1="412.4" x2="381.2" y2="415.4" stroke="#1e1e1e" stroke-width="0.9"/>
<line x1="392.6" y1="412.4" x2="392.6" y2="415.4" stroke="#1e1e1e" stroke-width="0.9"/>
<line x1="404" y1="412.4" x2="404" y2="415.4" stroke="#1e1e1e" stroke-width="0.9"/>
<line x1="415.4" y1="412.4" x2="415.4" y2="415.4" stroke="#1e1e1e" stroke-width="0.9"/>
<text x="370.1" y="425.4" font-size="7.6" fill="#1c1c1c" stroke="#1c1c1c" stroke-width="0.1" text-anchor="middle">0</text>
<text x="381.5" y="425.4" font-size="7.6" fill="#1c1c1c" stroke="#1c1c1c" stroke-width="0.1" text-anchor="middle">20</text>
<text x="392.9" y="425.4" font-size="7.6" fill="#1c1c1c" stroke="#1c1c1c" stroke-width="0.1" text-anchor="middle">40</text>
<text x="404.3" y="425.4" font-size="7.6" fill="#1c1c1c" stroke="#1c1c1c" stroke-width="0.1" text-anchor="middle">60</text>
<text x="415.7" y="425.4" font-size="7.6" fill="#1c1c1c" stroke="#1c1c1c" stroke-width="0.1" text-anchor="middle">80</text>
<text x="421.7" y="425.4" font-size="7.6" fill="#333" stroke="#333" stroke-width="0.08" textLength="10.6" lengthAdjust="spacingAndGlyphs">(%)</text>
<line x1="388" y1="368.1" x2="388.8" y2="368.1" stroke="#8294b4" stroke-width="1"/>
<line x1="388" y1="365.1" x2="388" y2="371.1" stroke="#8294b4" stroke-width="1"/>
<line x1="394.3" y1="368.1" x2="395.7" y2="368.1" stroke="#8294b4" stroke-width="1"/>
<line x1="395.7" y1="365.1" x2="395.7" y2="371.1" stroke="#8294b4" stroke-width="1"/>
<rect x="388.8" y="363.6" width="5.5" height="9" fill="#4e6487"/>
<line x1="391.5" y1="363.6" x2="391.5" y2="372.6" stroke="#000" stroke-width="1.4" stroke-opacity="0.78"/>
<line x1="389.4" y1="386.3" x2="392.5" y2="386.3" stroke="#8294b4" stroke-width="1"/>
<line x1="389.4" y1="383.3" x2="389.4" y2="389.3" stroke="#8294b4" stroke-width="1"/>
<line x1="396.3" y1="386.3" x2="402.1" y2="386.3" stroke="#8294b4" stroke-width="1"/>
<line x1="402.1" y1="383.3" x2="402.1" y2="389.3" stroke="#8294b4" stroke-width="1"/>
<rect x="392.5" y="381.8" width="3.8" height="9" fill="#4e6487"/>
<line x1="394" y1="381.8" x2="394" y2="390.8" stroke="#000" stroke-width="1.4" stroke-opacity="0.78"/>
<line x1="382.6" y1="404.4" x2="401.2" y2="404.4" stroke="#8294b4" stroke-width="1"/>
<line x1="382.6" y1="401.4" x2="382.6" y2="407.4" stroke="#8294b4" stroke-width="1"/>
<line x1="418.7" y1="404.4" x2="422.3" y2="404.4" stroke="#8294b4" stroke-width="1"/>
<line x1="422.3" y1="401.4" x2="422.3" y2="407.4" stroke="#8294b4" stroke-width="1"/>
<rect x="401.2" y="399.9" width="17.5" height="9" fill="#4e6487"/>
<line x1="406.3" y1="399.9" x2="406.3" y2="408.9" stroke="#000" stroke-width="1.4" stroke-opacity="0.78"/>
<rect x="447.6" y="359" width="60" height="53.4" fill="#fff" stroke="#1e1e1e" stroke-width="1.2"/>
<rect x="447.6" y="346.3" width="60" height="12.7" fill="#a6334a" stroke="#2a0d14" stroke-width="1.2"/>
<text x="455.4" y="354.7" font-size="6.4" fill="#f6e4e8" textLength="45" lengthAdjust="spacingAndGlyphs">Aged donor (#F)</text>
<line x1="448.9" y1="412.4" x2="448.9" y2="415.4" stroke="#1e1e1e" stroke-width="0.9"/>
<line x1="460.3" y1="412.4" x2="460.3" y2="415.4" stroke="#1e1e1e" stroke-width="0.9"/>
<line x1="471.7" y1="412.4" x2="471.7" y2="415.4" stroke="#1e1e1e" stroke-width="0.9"/>
<line x1="483.1" y1="412.4" x2="483.1" y2="415.4" stroke="#1e1e1e" stroke-width="0.9"/>
<line x1="494.5" y1="412.4" x2="494.5" y2="415.4" stroke="#1e1e1e" stroke-width="0.9"/>
<text x="449.2" y="425.4" font-size="7.6" fill="#1c1c1c" stroke="#1c1c1c" stroke-width="0.1" text-anchor="middle">0</text>
<text x="460.6" y="425.4" font-size="7.6" fill="#1c1c1c" stroke="#1c1c1c" stroke-width="0.1" text-anchor="middle">20</text>
<text x="472" y="425.4" font-size="7.6" fill="#1c1c1c" stroke="#1c1c1c" stroke-width="0.1" text-anchor="middle">40</text>
<text x="483.4" y="425.4" font-size="7.6" fill="#1c1c1c" stroke="#1c1c1c" stroke-width="0.1" text-anchor="middle">60</text>
<text x="494.8" y="425.4" font-size="7.6" fill="#1c1c1c" stroke="#1c1c1c" stroke-width="0.1" text-anchor="middle">80</text>
<text x="501.7" y="425.4" font-size="7.6" fill="#333" stroke="#333" stroke-width="0.08" textLength="10.6" lengthAdjust="spacingAndGlyphs">(%)</text>
<line x1="464.6" y1="368.1" x2="466.4" y2="368.1" stroke="#cc8290" stroke-width="1"/>
<line x1="464.6" y1="365.1" x2="464.6" y2="371.1" stroke="#cc8290" stroke-width="1"/>
<line x1="471.9" y1="368.1" x2="474.7" y2="368.1" stroke="#cc8290" stroke-width="1"/>
<line x1="474.7" y1="365.1" x2="474.7" y2="371.1" stroke="#cc8290" stroke-width="1"/>
<rect x="466.4" y="363.6" width="5.5" height="9" fill="#a03241"/>
<line x1="466.7" y1="363.6" x2="466.7" y2="372.6" stroke="#000" stroke-width="1.4" stroke-opacity="0.78"/>
<line x1="476.1" y1="386.3" x2="480.2" y2="386.3" stroke="#cc8290" stroke-width="1"/>
<line x1="476.1" y1="383.3" x2="476.1" y2="389.3" stroke="#cc8290" stroke-width="1"/>
<line x1="491.8" y1="386.3" x2="499.5" y2="386.3" stroke="#cc8290" stroke-width="1"/>
<line x1="499.5" y1="383.3" x2="499.5" y2="389.3" stroke="#cc8290" stroke-width="1"/>
<rect x="480.2" y="381.8" width="11.6" height="9" fill="#a03241"/>
<line x1="487.1" y1="381.8" x2="487.1" y2="390.8" stroke="#000" stroke-width="1.4" stroke-opacity="0.78"/>
<rect x="459.5" y="399.9" width="12.7" height="9" fill="#a03241"/>
<line x1="464.6" y1="399.9" x2="464.6" y2="408.9" stroke="#000" stroke-width="1.4" stroke-opacity="0.78"/>
<circle cx="492.2" cy="404.4" r="1.0" fill="#a03241"/>
<rect x="0" y="0" width="520" height="1.4" fill="#5c5c57"/>
<rect x="518.3" y="0" width="1.7" height="435" fill="#626260"/>
<rect x="0" y="0" width="1.2" height="435" fill="#383834"/>
<rect x="0" y="433.8" width="520" height="1.2" fill="#383834"/>
</svg>
</body></html>
